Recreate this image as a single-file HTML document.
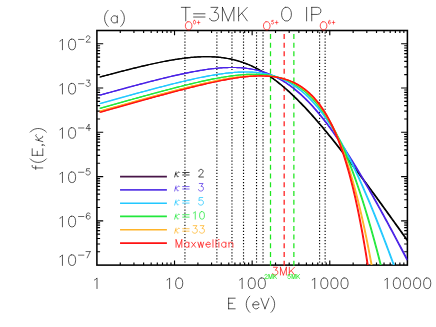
<!DOCTYPE html>
<html><head><meta charset="utf-8"><title>plot</title>
<style>html,body{margin:0;padding:0;background:#fff;font-family:"Liberation Sans",sans-serif;}body{width:436px;height:327px;overflow:hidden;position:relative}</style>
</head><body>
<svg width="436" height="327" viewBox="0 0 436 327" style="position:absolute;left:0;top:0">
<rect width="436" height="327" fill="#fff"/>
<defs><clipPath id="c"><rect x="96.90" y="30.50" width="310.50" height="234.60"/></clipPath></defs>
<rect x="96.90" y="30.50" width="310.50" height="234.60" fill="none" stroke="#000" stroke-width="1.55"/>
<path d="M120.27 265.10 v-2.5 M120.27 30.50 v2.5 M133.94 265.10 v-2.5 M133.94 30.50 v2.5 M143.63 265.10 v-2.5 M143.63 30.50 v2.5 M151.16 265.10 v-2.5 M151.16 30.50 v2.5 M157.30 265.10 v-2.5 M157.30 30.50 v2.5 M162.50 265.10 v-2.5 M162.50 30.50 v2.5 M167.00 265.10 v-2.5 M167.00 30.50 v2.5 M170.97 265.10 v-2.5 M170.97 30.50 v2.5 M174.53 265.10 v-4.7 M174.53 30.50 v4.7 M197.89 265.10 v-2.5 M197.89 30.50 v2.5 M211.56 265.10 v-2.5 M211.56 30.50 v2.5 M221.26 265.10 v-2.5 M221.26 30.50 v2.5 M228.78 265.10 v-2.5 M228.78 30.50 v2.5 M234.93 265.10 v-2.5 M234.93 30.50 v2.5 M240.13 265.10 v-2.5 M240.13 30.50 v2.5 M244.63 265.10 v-2.5 M244.63 30.50 v2.5 M248.60 265.10 v-2.5 M248.60 30.50 v2.5 M252.15 265.10 v-4.7 M252.15 30.50 v4.7 M275.52 265.10 v-2.5 M275.52 30.50 v2.5 M289.19 265.10 v-2.5 M289.19 30.50 v2.5 M298.88 265.10 v-2.5 M298.88 30.50 v2.5 M306.41 265.10 v-2.5 M306.41 30.50 v2.5 M312.55 265.10 v-2.5 M312.55 30.50 v2.5 M317.75 265.10 v-2.5 M317.75 30.50 v2.5 M322.25 265.10 v-2.5 M322.25 30.50 v2.5 M326.22 265.10 v-2.5 M326.22 30.50 v2.5 M329.77 265.10 v-4.7 M329.77 30.50 v4.7 M353.14 265.10 v-2.5 M353.14 30.50 v2.5 M366.81 265.10 v-2.5 M366.81 30.50 v2.5 M376.51 265.10 v-2.5 M376.51 30.50 v2.5 M384.03 265.10 v-2.5 M384.03 30.50 v2.5 M390.18 265.10 v-2.5 M390.18 30.50 v2.5 M395.38 265.10 v-2.5 M395.38 30.50 v2.5 M399.88 265.10 v-2.5 M399.88 30.50 v2.5 M403.85 265.10 v-2.5 M403.85 30.50 v2.5 M96.90 251.77 h3.2 M407.40 251.77 h-3.2 M96.90 243.98 h3.2 M407.40 243.98 h-3.2 M96.90 238.45 h3.2 M407.40 238.45 h-3.2 M96.90 234.16 h3.2 M407.40 234.16 h-3.2 M96.90 230.65 h3.2 M407.40 230.65 h-3.2 M96.90 227.69 h3.2 M407.40 227.69 h-3.2 M96.90 225.12 h3.2 M407.40 225.12 h-3.2 M96.90 222.85 h3.2 M407.40 222.85 h-3.2 M96.90 220.83 h6.3 M407.40 220.83 h-6.3 M96.90 207.50 h3.2 M407.40 207.50 h-3.2 M96.90 199.70 h3.2 M407.40 199.70 h-3.2 M96.90 194.17 h3.2 M407.40 194.17 h-3.2 M96.90 189.88 h3.2 M407.40 189.88 h-3.2 M96.90 186.38 h3.2 M407.40 186.38 h-3.2 M96.90 183.41 h3.2 M407.40 183.41 h-3.2 M96.90 180.85 h3.2 M407.40 180.85 h-3.2 M96.90 178.58 h3.2 M407.40 178.58 h-3.2 M96.90 176.56 h6.3 M407.40 176.56 h-6.3 M96.90 163.23 h3.2 M407.40 163.23 h-3.2 M96.90 155.43 h3.2 M407.40 155.43 h-3.2 M96.90 149.90 h3.2 M407.40 149.90 h-3.2 M96.90 145.61 h3.2 M407.40 145.61 h-3.2 M96.90 142.11 h3.2 M407.40 142.11 h-3.2 M96.90 139.14 h3.2 M407.40 139.14 h-3.2 M96.90 136.57 h3.2 M407.40 136.57 h-3.2 M96.90 134.31 h3.2 M407.40 134.31 h-3.2 M96.90 132.28 h6.3 M407.40 132.28 h-6.3 M96.90 118.96 h3.2 M407.40 118.96 h-3.2 M96.90 111.16 h3.2 M407.40 111.16 h-3.2 M96.90 105.63 h3.2 M407.40 105.63 h-3.2 M96.90 101.34 h3.2 M407.40 101.34 h-3.2 M96.90 97.83 h3.2 M407.40 97.83 h-3.2 M96.90 94.87 h3.2 M407.40 94.87 h-3.2 M96.90 92.30 h3.2 M407.40 92.30 h-3.2 M96.90 90.04 h3.2 M407.40 90.04 h-3.2 M96.90 88.01 h6.3 M407.40 88.01 h-6.3 M96.90 74.68 h3.2 M407.40 74.68 h-3.2 M96.90 66.89 h3.2 M407.40 66.89 h-3.2 M96.90 61.36 h3.2 M407.40 61.36 h-3.2 M96.90 57.07 h3.2 M407.40 57.07 h-3.2 M96.90 53.56 h3.2 M407.40 53.56 h-3.2 M96.90 50.60 h3.2 M407.40 50.60 h-3.2 M96.90 48.03 h3.2 M407.40 48.03 h-3.2 M96.90 45.77 h3.2 M407.40 45.77 h-3.2 M96.90 43.74 h6.3 M407.40 43.74 h-6.3" stroke="#000" stroke-width="1.15" fill="none"/>
<line x1="184.94" y1="262.57" x2="184.94" y2="30.50" stroke="#000" stroke-width="1.15" stroke-dasharray="1.15 1.9047"/>
<line x1="216.87" y1="262.57" x2="216.87" y2="30.50" stroke="#000" stroke-width="1.15" stroke-dasharray="1.15 1.9047"/>
<line x1="231.96" y1="262.57" x2="231.96" y2="30.50" stroke="#000" stroke-width="1.15" stroke-dasharray="1.15 1.9047"/>
<line x1="243.52" y1="262.57" x2="243.52" y2="30.50" stroke="#000" stroke-width="1.15" stroke-dasharray="1.15 1.9047"/>
<line x1="256.54" y1="262.57" x2="256.54" y2="30.50" stroke="#000" stroke-width="1.15" stroke-dasharray="1.15 1.9047"/>
<line x1="263.04" y1="262.57" x2="263.04" y2="30.50" stroke="#000" stroke-width="1.15" stroke-dasharray="1.15 1.9047"/>
<line x1="319.59" y1="262.57" x2="319.59" y2="30.50" stroke="#000" stroke-width="1.15" stroke-dasharray="1.15 1.9047"/>
<line x1="325.13" y1="262.57" x2="325.13" y2="30.50" stroke="#000" stroke-width="1.15" stroke-dasharray="1.15 1.9047"/>
<line x1="270.50" y1="265.80" x2="270.50" y2="31.50" stroke="#1ee61e" stroke-width="1.25" stroke-dasharray="5.000 3.727"/>
<line x1="284.17" y1="265.80" x2="284.17" y2="31.50" stroke="#ff1a1a" stroke-width="1.25" stroke-dasharray="5.000 3.727"/>
<line x1="293.87" y1="265.80" x2="293.87" y2="31.50" stroke="#1ee61e" stroke-width="1.25" stroke-dasharray="5.000 3.727"/>
<g clip-path="url(#c)" fill="none" stroke-width="1.18" stroke-linejoin="round">
<path d="M99.90 77.07 L101.08 76.75 L102.26 76.43 L103.45 76.11 L104.63 75.80 L105.81 75.48 L106.99 75.16 L108.18 74.85 L109.36 74.53 L110.54 74.22 L111.72 73.90 L112.91 73.59 L114.09 73.28 L115.27 72.97 L116.46 72.66 L117.64 72.35 L118.82 72.04 L120.00 71.73 L121.19 71.43 L122.37 71.12 L123.55 70.82 L124.73 70.51 L125.92 70.21 L127.10 69.91 L128.28 69.61 L129.47 69.32 L130.65 69.02 L131.83 68.73 L133.01 68.43 L134.20 68.14 L135.38 67.85 L136.56 67.56 L137.74 67.27 L138.93 66.99 L140.11 66.71 L141.29 66.42 L142.48 66.15 L143.66 65.87 L144.84 65.59 L146.02 65.32 L147.21 65.05 L148.39 64.78 L149.57 64.51 L150.75 64.25 L151.94 63.99 L153.12 63.73 L154.30 63.47 L155.48 63.22 L156.67 62.97 L157.85 62.72 L159.03 62.48 L160.22 62.23 L161.40 62.00 L162.58 61.76 L163.76 61.53 L164.95 61.30 L166.13 61.08 L167.31 60.86 L168.49 60.64 L169.68 60.43 L170.86 60.22 L172.04 60.02 L173.23 59.82 L174.41 59.62 L175.59 59.43 L176.77 59.25 L177.96 59.07 L179.14 58.89 L180.32 58.72 L181.50 58.56 L182.69 58.40 L183.87 58.25 L185.05 58.10 L186.24 57.96 L187.42 57.83 L188.60 57.70 L189.78 57.58 L190.97 57.46 L192.15 57.36 L193.33 57.26 L194.51 57.16 L195.70 57.08 L196.88 57.00 L198.06 56.93 L199.24 56.87 L200.43 56.82 L201.61 56.77 L202.79 56.74 L203.98 56.71 L205.16 56.70 L206.34 56.69 L207.52 56.70 L208.71 56.71 L209.89 56.73 L211.07 56.77 L212.25 56.81 L213.44 56.87 L214.62 56.93 L215.80 57.01 L216.99 57.10 L218.17 57.21 L219.35 57.32 L220.53 57.45 L221.72 57.59 L222.90 57.74 L224.08 57.90 L225.26 58.08 L226.45 58.28 L227.63 58.48 L228.81 58.70 L229.99 58.94 L231.18 59.19 L232.36 59.45 L233.54 59.73 L234.73 60.02 L235.91 60.33 L237.09 60.66 L238.27 61.00 L239.46 61.35 L240.64 61.73 L241.82 62.12 L243.00 62.52 L244.19 62.94 L245.37 63.38 L246.55 63.84 L247.74 64.31 L248.92 64.80 L250.10 65.30 L251.28 65.83 L252.47 66.37 L253.65 66.93 L254.83 67.51 L256.01 68.10 L257.20 68.71 L258.38 69.34 L259.56 69.99 L260.75 70.65 L261.93 71.33 L263.11 72.03 L264.29 72.75 L265.48 73.49 L266.66 74.24 L267.84 75.01 L269.02 75.80 L270.21 76.61 L271.39 77.43 L272.57 78.27 L273.75 79.13 L274.94 80.00 L276.12 80.90 L277.30 81.81 L278.49 82.73 L279.67 83.67 L280.85 84.63 L282.03 85.61 L283.22 86.60 L284.40 87.61 L285.58 88.63 L286.76 89.67 L287.95 90.72 L289.13 91.79 L290.31 92.87 L291.50 93.97 L292.68 95.08 L293.86 96.21 L295.04 97.35 L296.23 98.51 L297.41 99.68 L298.59 100.86 L299.77 102.05 L300.96 103.26 L302.14 104.48 L303.32 105.72 L304.51 106.96 L305.69 108.22 L306.87 109.49 L308.05 110.77 L309.24 112.06 L310.42 113.37 L311.60 114.68 L312.78 116.00 L313.97 117.34 L315.15 118.68 L316.33 120.04 L317.51 121.40 L318.70 122.78 L319.88 124.16 L321.06 125.55 L322.25 126.95 L323.43 128.36 L324.61 129.78 L325.79 131.20 L326.98 132.64 L328.16 134.08 L329.34 135.53 L330.52 136.98 L331.71 138.44 L332.89 139.91 L334.07 141.39 L335.26 142.87 L336.44 144.36 L337.62 145.86 L338.80 147.36 L339.99 148.87 L341.17 150.38 L342.35 151.90 L343.53 153.42 L344.72 154.95 L345.90 156.48 L347.08 158.02 L348.26 159.56 L349.45 161.11 L350.63 162.67 L351.81 164.22 L353.00 165.78 L354.18 167.35 L355.36 168.92 L356.54 170.49 L357.73 172.07 L358.91 173.65 L360.09 175.23 L361.27 176.82 L362.46 178.41 L363.64 180.00 L364.82 181.60 L366.01 183.20 L367.19 184.80 L368.37 186.40 L369.55 188.01 L370.74 189.62 L371.92 191.23 L373.10 192.85 L374.28 194.47 L375.47 196.09 L376.65 197.71 L377.83 199.33 L379.02 200.96 L380.20 202.59 L381.38 204.22 L382.56 205.85 L383.75 207.48 L384.93 209.12 L386.11 210.76 L387.29 212.40 L388.48 214.04 L389.66 215.68 L390.84 217.32 L392.02 218.97 L393.21 220.61 L394.39 222.26 L395.57 223.91 L396.76 225.56 L397.94 227.21 L399.12 228.87 L400.30 230.52 L401.49 232.18 L402.67 233.83 L403.85 235.49 L405.03 237.15 L406.22 238.81 L407.40 240.47" stroke="#000000" transform="translate(-0.36,0)"/>
<path d="M99.90 77.07 L101.08 76.75 L102.26 76.43 L103.45 76.11 L104.63 75.80 L105.81 75.48 L106.99 75.16 L108.18 74.85 L109.36 74.53 L110.54 74.22 L111.72 73.90 L112.91 73.59 L114.09 73.28 L115.27 72.97 L116.46 72.66 L117.64 72.35 L118.82 72.04 L120.00 71.73 L121.19 71.43 L122.37 71.12 L123.55 70.82 L124.73 70.51 L125.92 70.21 L127.10 69.91 L128.28 69.61 L129.47 69.32 L130.65 69.02 L131.83 68.73 L133.01 68.43 L134.20 68.14 L135.38 67.85 L136.56 67.56 L137.74 67.27 L138.93 66.99 L140.11 66.71 L141.29 66.42 L142.48 66.15 L143.66 65.87 L144.84 65.59 L146.02 65.32 L147.21 65.05 L148.39 64.78 L149.57 64.51 L150.75 64.25 L151.94 63.99 L153.12 63.73 L154.30 63.47 L155.48 63.22 L156.67 62.97 L157.85 62.72 L159.03 62.48 L160.22 62.23 L161.40 62.00 L162.58 61.76 L163.76 61.53 L164.95 61.30 L166.13 61.08 L167.31 60.86 L168.49 60.64 L169.68 60.43 L170.86 60.22 L172.04 60.02 L173.23 59.82 L174.41 59.62 L175.59 59.43 L176.77 59.25 L177.96 59.07 L179.14 58.89 L180.32 58.72 L181.50 58.56 L182.69 58.40 L183.87 58.25 L185.05 58.10 L186.24 57.96 L187.42 57.83 L188.60 57.70 L189.78 57.58 L190.97 57.46 L192.15 57.36 L193.33 57.26 L194.51 57.16 L195.70 57.08 L196.88 57.00 L198.06 56.93 L199.24 56.87 L200.43 56.82 L201.61 56.77 L202.79 56.74 L203.98 56.71 L205.16 56.70 L206.34 56.69 L207.52 56.70 L208.71 56.71 L209.89 56.73 L211.07 56.77 L212.25 56.81 L213.44 56.87 L214.62 56.93 L215.80 57.01 L216.99 57.10 L218.17 57.21 L219.35 57.32 L220.53 57.45 L221.72 57.59 L222.90 57.74 L224.08 57.90 L225.26 58.08 L226.45 58.28 L227.63 58.48 L228.81 58.70 L229.99 58.94 L231.18 59.19 L232.36 59.45 L233.54 59.73 L234.73 60.02 L235.91 60.33 L237.09 60.66 L238.27 61.00 L239.46 61.35 L240.64 61.73 L241.82 62.12 L243.00 62.52 L244.19 62.94 L245.37 63.38 L246.55 63.84 L247.74 64.31 L248.92 64.80 L250.10 65.30 L251.28 65.83 L252.47 66.37 L253.65 66.93 L254.83 67.51 L256.01 68.10 L257.20 68.71 L258.38 69.34 L259.56 69.99 L260.75 70.65 L261.93 71.33 L263.11 72.03 L264.29 72.75 L265.48 73.49 L266.66 74.24 L267.84 75.01 L269.02 75.80 L270.21 76.61 L271.39 77.43 L272.57 78.27 L273.75 79.13 L274.94 80.00 L276.12 80.90 L277.30 81.81 L278.49 82.73 L279.67 83.67 L280.85 84.63 L282.03 85.61 L283.22 86.60 L284.40 87.61 L285.58 88.63 L286.76 89.67 L287.95 90.72 L289.13 91.79 L290.31 92.87 L291.50 93.97 L292.68 95.08 L293.86 96.21 L295.04 97.35 L296.23 98.51 L297.41 99.68 L298.59 100.86 L299.77 102.05 L300.96 103.26 L302.14 104.48 L303.32 105.72 L304.51 106.96 L305.69 108.22 L306.87 109.49 L308.05 110.77 L309.24 112.06 L310.42 113.37 L311.60 114.68 L312.78 116.00 L313.97 117.34 L315.15 118.68 L316.33 120.04 L317.51 121.40 L318.70 122.78 L319.88 124.16 L321.06 125.55 L322.25 126.95 L323.43 128.36 L324.61 129.78 L325.79 131.20 L326.98 132.64 L328.16 134.08 L329.34 135.53 L330.52 136.98 L331.71 138.44 L332.89 139.91 L334.07 141.39 L335.26 142.87 L336.44 144.36 L337.62 145.86 L338.80 147.36 L339.99 148.87 L341.17 150.38 L342.35 151.90 L343.53 153.42 L344.72 154.95 L345.90 156.48 L347.08 158.02 L348.26 159.56 L349.45 161.11 L350.63 162.67 L351.81 164.22 L353.00 165.78 L354.18 167.35 L355.36 168.92 L356.54 170.49 L357.73 172.07 L358.91 173.65 L360.09 175.23 L361.27 176.82 L362.46 178.41 L363.64 180.00 L364.82 181.60 L366.01 183.20 L367.19 184.80 L368.37 186.40 L369.55 188.01 L370.74 189.62 L371.92 191.23 L373.10 192.85 L374.28 194.47 L375.47 196.09 L376.65 197.71 L377.83 199.33 L379.02 200.96 L380.20 202.59 L381.38 204.22 L382.56 205.85 L383.75 207.48 L384.93 209.12 L386.11 210.76 L387.29 212.40 L388.48 214.04 L389.66 215.68 L390.84 217.32 L392.02 218.97 L393.21 220.61 L394.39 222.26 L395.57 223.91 L396.76 225.56 L397.94 227.21 L399.12 228.87 L400.30 230.52 L401.49 232.18 L402.67 233.83 L403.85 235.49 L405.03 237.15 L406.22 238.81 L407.40 240.47" stroke="#000000" transform="translate(0.36,0)"/>
<path d="M99.90 95.16 L101.08 94.83 L102.26 94.50 L103.45 94.17 L104.63 93.84 L105.81 93.52 L106.99 93.19 L108.18 92.86 L109.36 92.53 L110.54 92.21 L111.72 91.88 L112.91 91.55 L114.09 91.23 L115.27 90.90 L116.46 90.58 L117.64 90.25 L118.82 89.93 L120.00 89.60 L121.19 89.28 L122.37 88.96 L123.55 88.64 L124.73 88.31 L125.92 87.99 L127.10 87.67 L128.28 87.35 L129.47 87.03 L130.65 86.71 L131.83 86.40 L133.01 86.08 L134.20 85.76 L135.38 85.45 L136.56 85.13 L137.74 84.82 L138.93 84.50 L140.11 84.19 L141.29 83.88 L142.48 83.57 L143.66 83.26 L144.84 82.95 L146.02 82.64 L147.21 82.33 L148.39 82.03 L149.57 81.72 L150.75 81.42 L151.94 81.11 L153.12 80.81 L154.30 80.51 L155.48 80.21 L156.67 79.92 L157.85 79.62 L159.03 79.32 L160.22 79.03 L161.40 78.74 L162.58 78.45 L163.76 78.16 L164.95 77.87 L166.13 77.59 L167.31 77.31 L168.49 77.02 L169.68 76.74 L170.86 76.47 L172.04 76.19 L173.23 75.92 L174.41 75.65 L175.59 75.38 L176.77 75.11 L177.96 74.85 L179.14 74.59 L180.32 74.33 L181.50 74.08 L182.69 73.82 L183.87 73.57 L185.05 73.33 L186.24 73.08 L187.42 72.84 L188.60 72.60 L189.78 72.37 L190.97 72.14 L192.15 71.91 L193.33 71.69 L194.51 71.47 L195.70 71.26 L196.88 71.05 L198.06 70.84 L199.24 70.64 L200.43 70.44 L201.61 70.25 L202.79 70.06 L203.98 69.88 L205.16 69.70 L206.34 69.53 L207.52 69.36 L208.71 69.20 L209.89 69.04 L211.07 68.89 L212.25 68.75 L213.44 68.61 L214.62 68.48 L215.80 68.36 L216.99 68.24 L218.17 68.14 L219.35 68.03 L220.53 67.94 L221.72 67.85 L222.90 67.78 L224.08 67.71 L225.26 67.65 L226.45 67.59 L227.63 67.55 L228.81 67.52 L229.99 67.49 L231.18 67.48 L232.36 67.48 L233.54 67.48 L234.73 67.50 L235.91 67.53 L237.09 67.57 L238.27 67.62 L239.46 67.68 L240.64 67.75 L241.82 67.84 L243.00 67.94 L244.19 68.05 L245.37 68.18 L246.55 68.32 L247.74 68.47 L248.92 68.64 L250.10 68.82 L251.28 69.02 L252.47 69.23 L253.65 69.46 L254.83 69.70 L256.01 69.96 L257.20 70.24 L258.38 70.53 L259.56 70.84 L260.75 71.17 L261.93 71.51 L263.11 71.88 L264.29 72.26 L265.48 72.66 L266.66 73.08 L267.84 73.52 L269.02 73.98 L270.21 74.45 L271.39 74.95 L272.57 75.47 L273.75 76.01 L274.94 76.57 L276.12 77.15 L277.30 77.75 L278.49 78.38 L279.67 79.02 L280.85 79.69 L282.03 80.38 L283.22 81.09 L284.40 81.83 L285.58 82.59 L286.76 83.37 L287.95 84.17 L289.13 85.00 L290.31 85.85 L291.50 86.72 L292.68 87.62 L293.86 88.54 L295.04 89.48 L296.23 90.45 L297.41 91.44 L298.59 92.46 L299.77 93.50 L300.96 94.56 L302.14 95.64 L303.32 96.75 L304.51 97.89 L305.69 99.04 L306.87 100.22 L308.05 101.43 L309.24 102.65 L310.42 103.90 L311.60 105.17 L312.78 106.47 L313.97 107.78 L315.15 109.12 L316.33 110.49 L317.51 111.87 L318.70 113.28 L319.88 114.70 L321.06 116.15 L322.25 117.62 L323.43 119.11 L324.61 120.62 L325.79 122.15 L326.98 123.70 L328.16 125.27 L329.34 126.86 L330.52 128.47 L331.71 130.10 L332.89 131.75 L334.07 133.41 L335.26 135.10 L336.44 136.80 L337.62 138.52 L338.80 140.25 L339.99 142.00 L341.17 143.77 L342.35 145.56 L343.53 147.36 L344.72 149.17 L345.90 151.00 L347.08 152.85 L348.26 154.71 L349.45 156.58 L350.63 158.47 L351.81 160.37 L353.00 162.28 L354.18 164.21 L355.36 166.15 L356.54 168.10 L357.73 170.07 L358.91 172.05 L360.09 174.03 L361.27 176.03 L362.46 178.04 L363.64 180.06 L364.82 182.09 L366.01 184.13 L367.19 186.18 L368.37 188.24 L369.55 190.31 L370.74 192.39 L371.92 194.48 L373.10 196.57 L374.28 198.68 L375.47 200.79 L376.65 202.91 L377.83 205.03 L379.02 207.17 L380.20 209.31 L381.38 211.46 L382.56 213.61 L383.75 215.78 L384.93 217.94 L386.11 220.12 L387.29 222.30 L388.48 224.48 L389.66 226.68 L390.84 228.87 L392.02 231.08 L393.21 233.28 L394.39 235.50 L395.57 237.71 L396.76 239.94 L397.94 242.16 L399.12 244.40 L400.30 246.63 L401.49 248.87 L402.67 251.11 L403.85 253.36 L405.03 255.61 L406.22 257.87 L407.40 260.13" stroke="#4a22e6" transform="translate(-0.36,0)"/>
<path d="M99.90 95.16 L101.08 94.83 L102.26 94.50 L103.45 94.17 L104.63 93.84 L105.81 93.52 L106.99 93.19 L108.18 92.86 L109.36 92.53 L110.54 92.21 L111.72 91.88 L112.91 91.55 L114.09 91.23 L115.27 90.90 L116.46 90.58 L117.64 90.25 L118.82 89.93 L120.00 89.60 L121.19 89.28 L122.37 88.96 L123.55 88.64 L124.73 88.31 L125.92 87.99 L127.10 87.67 L128.28 87.35 L129.47 87.03 L130.65 86.71 L131.83 86.40 L133.01 86.08 L134.20 85.76 L135.38 85.45 L136.56 85.13 L137.74 84.82 L138.93 84.50 L140.11 84.19 L141.29 83.88 L142.48 83.57 L143.66 83.26 L144.84 82.95 L146.02 82.64 L147.21 82.33 L148.39 82.03 L149.57 81.72 L150.75 81.42 L151.94 81.11 L153.12 80.81 L154.30 80.51 L155.48 80.21 L156.67 79.92 L157.85 79.62 L159.03 79.32 L160.22 79.03 L161.40 78.74 L162.58 78.45 L163.76 78.16 L164.95 77.87 L166.13 77.59 L167.31 77.31 L168.49 77.02 L169.68 76.74 L170.86 76.47 L172.04 76.19 L173.23 75.92 L174.41 75.65 L175.59 75.38 L176.77 75.11 L177.96 74.85 L179.14 74.59 L180.32 74.33 L181.50 74.08 L182.69 73.82 L183.87 73.57 L185.05 73.33 L186.24 73.08 L187.42 72.84 L188.60 72.60 L189.78 72.37 L190.97 72.14 L192.15 71.91 L193.33 71.69 L194.51 71.47 L195.70 71.26 L196.88 71.05 L198.06 70.84 L199.24 70.64 L200.43 70.44 L201.61 70.25 L202.79 70.06 L203.98 69.88 L205.16 69.70 L206.34 69.53 L207.52 69.36 L208.71 69.20 L209.89 69.04 L211.07 68.89 L212.25 68.75 L213.44 68.61 L214.62 68.48 L215.80 68.36 L216.99 68.24 L218.17 68.14 L219.35 68.03 L220.53 67.94 L221.72 67.85 L222.90 67.78 L224.08 67.71 L225.26 67.65 L226.45 67.59 L227.63 67.55 L228.81 67.52 L229.99 67.49 L231.18 67.48 L232.36 67.48 L233.54 67.48 L234.73 67.50 L235.91 67.53 L237.09 67.57 L238.27 67.62 L239.46 67.68 L240.64 67.75 L241.82 67.84 L243.00 67.94 L244.19 68.05 L245.37 68.18 L246.55 68.32 L247.74 68.47 L248.92 68.64 L250.10 68.82 L251.28 69.02 L252.47 69.23 L253.65 69.46 L254.83 69.70 L256.01 69.96 L257.20 70.24 L258.38 70.53 L259.56 70.84 L260.75 71.17 L261.93 71.51 L263.11 71.88 L264.29 72.26 L265.48 72.66 L266.66 73.08 L267.84 73.52 L269.02 73.98 L270.21 74.45 L271.39 74.95 L272.57 75.47 L273.75 76.01 L274.94 76.57 L276.12 77.15 L277.30 77.75 L278.49 78.38 L279.67 79.02 L280.85 79.69 L282.03 80.38 L283.22 81.09 L284.40 81.83 L285.58 82.59 L286.76 83.37 L287.95 84.17 L289.13 85.00 L290.31 85.85 L291.50 86.72 L292.68 87.62 L293.86 88.54 L295.04 89.48 L296.23 90.45 L297.41 91.44 L298.59 92.46 L299.77 93.50 L300.96 94.56 L302.14 95.64 L303.32 96.75 L304.51 97.89 L305.69 99.04 L306.87 100.22 L308.05 101.43 L309.24 102.65 L310.42 103.90 L311.60 105.17 L312.78 106.47 L313.97 107.78 L315.15 109.12 L316.33 110.49 L317.51 111.87 L318.70 113.28 L319.88 114.70 L321.06 116.15 L322.25 117.62 L323.43 119.11 L324.61 120.62 L325.79 122.15 L326.98 123.70 L328.16 125.27 L329.34 126.86 L330.52 128.47 L331.71 130.10 L332.89 131.75 L334.07 133.41 L335.26 135.10 L336.44 136.80 L337.62 138.52 L338.80 140.25 L339.99 142.00 L341.17 143.77 L342.35 145.56 L343.53 147.36 L344.72 149.17 L345.90 151.00 L347.08 152.85 L348.26 154.71 L349.45 156.58 L350.63 158.47 L351.81 160.37 L353.00 162.28 L354.18 164.21 L355.36 166.15 L356.54 168.10 L357.73 170.07 L358.91 172.05 L360.09 174.03 L361.27 176.03 L362.46 178.04 L363.64 180.06 L364.82 182.09 L366.01 184.13 L367.19 186.18 L368.37 188.24 L369.55 190.31 L370.74 192.39 L371.92 194.48 L373.10 196.57 L374.28 198.68 L375.47 200.79 L376.65 202.91 L377.83 205.03 L379.02 207.17 L380.20 209.31 L381.38 211.46 L382.56 213.61 L383.75 215.78 L384.93 217.94 L386.11 220.12 L387.29 222.30 L388.48 224.48 L389.66 226.68 L390.84 228.87 L392.02 231.08 L393.21 233.28 L394.39 235.50 L395.57 237.71 L396.76 239.94 L397.94 242.16 L399.12 244.40 L400.30 246.63 L401.49 248.87 L402.67 251.11 L403.85 253.36 L405.03 255.61 L406.22 257.87 L407.40 260.13" stroke="#4a22e6" transform="translate(0.36,0)"/>
<path d="M99.90 103.63 L101.08 103.29 L102.26 102.96 L103.45 102.63 L104.63 102.30 L105.81 101.97 L106.99 101.64 L108.18 101.30 L109.36 100.97 L110.54 100.64 L111.72 100.31 L112.91 99.98 L114.09 99.65 L115.27 99.32 L116.46 98.99 L117.64 98.66 L118.82 98.33 L120.00 98.01 L121.19 97.68 L122.37 97.35 L123.55 97.02 L124.73 96.70 L125.92 96.37 L127.10 96.04 L128.28 95.72 L129.47 95.39 L130.65 95.06 L131.83 94.74 L133.01 94.42 L134.20 94.09 L135.38 93.77 L136.56 93.44 L137.74 93.12 L138.93 92.80 L140.11 92.48 L141.29 92.16 L142.48 91.84 L143.66 91.52 L144.84 91.20 L146.02 90.88 L147.21 90.56 L148.39 90.24 L149.57 89.93 L150.75 89.61 L151.94 89.30 L153.12 88.98 L154.30 88.67 L155.48 88.36 L156.67 88.05 L157.85 87.74 L159.03 87.43 L160.22 87.12 L161.40 86.81 L162.58 86.50 L163.76 86.20 L164.95 85.89 L166.13 85.59 L167.31 85.29 L168.49 84.99 L169.68 84.69 L170.86 84.39 L172.04 84.09 L173.23 83.80 L174.41 83.50 L175.59 83.21 L176.77 82.92 L177.96 82.63 L179.14 82.34 L180.32 82.06 L181.50 81.77 L182.69 81.49 L183.87 81.21 L185.05 80.93 L186.24 80.66 L187.42 80.38 L188.60 80.11 L189.78 79.84 L190.97 79.58 L192.15 79.31 L193.33 79.05 L194.51 78.79 L195.70 78.53 L196.88 78.28 L198.06 78.03 L199.24 77.78 L200.43 77.54 L201.61 77.29 L202.79 77.06 L203.98 76.82 L205.16 76.59 L206.34 76.36 L207.52 76.14 L208.71 75.92 L209.89 75.70 L211.07 75.49 L212.25 75.29 L213.44 75.08 L214.62 74.89 L215.80 74.69 L216.99 74.50 L218.17 74.32 L219.35 74.14 L220.53 73.97 L221.72 73.81 L222.90 73.64 L224.08 73.49 L225.26 73.34 L226.45 73.20 L227.63 73.06 L228.81 72.94 L229.99 72.81 L231.18 72.70 L232.36 72.59 L233.54 72.49 L234.73 72.40 L235.91 72.32 L237.09 72.25 L238.27 72.18 L239.46 72.12 L240.64 72.08 L241.82 72.04 L243.00 72.01 L244.19 71.99 L245.37 71.99 L246.55 71.99 L247.74 72.00 L248.92 72.03 L250.10 72.07 L251.28 72.12 L252.47 72.18 L253.65 72.26 L254.83 72.34 L256.01 72.45 L257.20 72.56 L258.38 72.69 L259.56 72.84 L260.75 73.00 L261.93 73.17 L263.11 73.37 L264.29 73.57 L265.48 73.80 L266.66 74.04 L267.84 74.30 L269.02 74.58 L270.21 74.87 L271.39 75.19 L272.57 75.52 L273.75 75.88 L274.94 76.25 L276.12 76.65 L277.30 77.07 L278.49 77.50 L279.67 77.96 L280.85 78.45 L282.03 78.96 L283.22 79.49 L284.40 80.04 L285.58 80.62 L286.76 81.22 L287.95 81.85 L289.13 82.51 L290.31 83.19 L291.50 83.90 L292.68 84.64 L293.86 85.40 L295.04 86.20 L296.23 87.02 L297.41 87.87 L298.59 88.75 L299.77 89.66 L300.96 90.60 L302.14 91.58 L303.32 92.58 L304.51 93.62 L305.69 94.68 L306.87 95.78 L308.05 96.92 L309.24 98.08 L310.42 99.28 L311.60 100.51 L312.78 101.78 L313.97 103.08 L315.15 104.41 L316.33 105.78 L317.51 107.18 L318.70 108.62 L319.88 110.10 L321.06 111.61 L322.25 113.15 L323.43 114.73 L324.61 116.34 L325.79 117.99 L326.98 119.68 L328.16 121.40 L329.34 123.16 L330.52 124.95 L331.71 126.78 L332.89 128.64 L334.07 130.54 L335.26 132.47 L336.44 134.44 L337.62 136.44 L338.80 138.48 L339.99 140.55 L341.17 142.66 L342.35 144.80 L343.53 146.97 L344.72 149.18 L345.90 151.41 L347.08 153.69 L348.26 155.99 L349.45 158.33 L350.63 160.69 L351.81 163.09 L353.00 165.52 L354.18 167.99 L355.36 170.48 L356.54 173.00 L357.73 175.55 L358.91 178.12 L360.09 180.73 L361.27 183.37 L362.46 186.03 L363.64 188.72 L364.82 191.43 L366.01 194.18 L367.19 196.94 L368.37 199.74 L369.55 202.55 L370.74 205.39 L371.92 208.26 L373.10 211.15 L374.28 214.06 L375.47 216.99 L376.65 219.95 L377.83 222.92 L379.02 225.92 L380.20 228.94 L381.38 231.98 L382.56 235.03 L383.75 238.11 L384.93 241.20 L386.11 244.32 L387.29 247.45 L388.48 250.59 L389.66 253.76 L390.84 256.94 L392.02 260.13 L393.21 263.35 L394.39 266.57 L395.57 269.82 L396.76 273.07 L397.94 276.34 L399.12 279.63 L400.30 282.92 L401.49 286.23 L402.67 289.55 L403.85 292.89 L405.03 296.23" stroke="#22c8ff" transform="translate(-0.36,0)"/>
<path d="M99.90 103.63 L101.08 103.29 L102.26 102.96 L103.45 102.63 L104.63 102.30 L105.81 101.97 L106.99 101.64 L108.18 101.30 L109.36 100.97 L110.54 100.64 L111.72 100.31 L112.91 99.98 L114.09 99.65 L115.27 99.32 L116.46 98.99 L117.64 98.66 L118.82 98.33 L120.00 98.01 L121.19 97.68 L122.37 97.35 L123.55 97.02 L124.73 96.70 L125.92 96.37 L127.10 96.04 L128.28 95.72 L129.47 95.39 L130.65 95.06 L131.83 94.74 L133.01 94.42 L134.20 94.09 L135.38 93.77 L136.56 93.44 L137.74 93.12 L138.93 92.80 L140.11 92.48 L141.29 92.16 L142.48 91.84 L143.66 91.52 L144.84 91.20 L146.02 90.88 L147.21 90.56 L148.39 90.24 L149.57 89.93 L150.75 89.61 L151.94 89.30 L153.12 88.98 L154.30 88.67 L155.48 88.36 L156.67 88.05 L157.85 87.74 L159.03 87.43 L160.22 87.12 L161.40 86.81 L162.58 86.50 L163.76 86.20 L164.95 85.89 L166.13 85.59 L167.31 85.29 L168.49 84.99 L169.68 84.69 L170.86 84.39 L172.04 84.09 L173.23 83.80 L174.41 83.50 L175.59 83.21 L176.77 82.92 L177.96 82.63 L179.14 82.34 L180.32 82.06 L181.50 81.77 L182.69 81.49 L183.87 81.21 L185.05 80.93 L186.24 80.66 L187.42 80.38 L188.60 80.11 L189.78 79.84 L190.97 79.58 L192.15 79.31 L193.33 79.05 L194.51 78.79 L195.70 78.53 L196.88 78.28 L198.06 78.03 L199.24 77.78 L200.43 77.54 L201.61 77.29 L202.79 77.06 L203.98 76.82 L205.16 76.59 L206.34 76.36 L207.52 76.14 L208.71 75.92 L209.89 75.70 L211.07 75.49 L212.25 75.29 L213.44 75.08 L214.62 74.89 L215.80 74.69 L216.99 74.50 L218.17 74.32 L219.35 74.14 L220.53 73.97 L221.72 73.81 L222.90 73.64 L224.08 73.49 L225.26 73.34 L226.45 73.20 L227.63 73.06 L228.81 72.94 L229.99 72.81 L231.18 72.70 L232.36 72.59 L233.54 72.49 L234.73 72.40 L235.91 72.32 L237.09 72.25 L238.27 72.18 L239.46 72.12 L240.64 72.08 L241.82 72.04 L243.00 72.01 L244.19 71.99 L245.37 71.99 L246.55 71.99 L247.74 72.00 L248.92 72.03 L250.10 72.07 L251.28 72.12 L252.47 72.18 L253.65 72.26 L254.83 72.34 L256.01 72.45 L257.20 72.56 L258.38 72.69 L259.56 72.84 L260.75 73.00 L261.93 73.17 L263.11 73.37 L264.29 73.57 L265.48 73.80 L266.66 74.04 L267.84 74.30 L269.02 74.58 L270.21 74.87 L271.39 75.19 L272.57 75.52 L273.75 75.88 L274.94 76.25 L276.12 76.65 L277.30 77.07 L278.49 77.50 L279.67 77.96 L280.85 78.45 L282.03 78.96 L283.22 79.49 L284.40 80.04 L285.58 80.62 L286.76 81.22 L287.95 81.85 L289.13 82.51 L290.31 83.19 L291.50 83.90 L292.68 84.64 L293.86 85.40 L295.04 86.20 L296.23 87.02 L297.41 87.87 L298.59 88.75 L299.77 89.66 L300.96 90.60 L302.14 91.58 L303.32 92.58 L304.51 93.62 L305.69 94.68 L306.87 95.78 L308.05 96.92 L309.24 98.08 L310.42 99.28 L311.60 100.51 L312.78 101.78 L313.97 103.08 L315.15 104.41 L316.33 105.78 L317.51 107.18 L318.70 108.62 L319.88 110.10 L321.06 111.61 L322.25 113.15 L323.43 114.73 L324.61 116.34 L325.79 117.99 L326.98 119.68 L328.16 121.40 L329.34 123.16 L330.52 124.95 L331.71 126.78 L332.89 128.64 L334.07 130.54 L335.26 132.47 L336.44 134.44 L337.62 136.44 L338.80 138.48 L339.99 140.55 L341.17 142.66 L342.35 144.80 L343.53 146.97 L344.72 149.18 L345.90 151.41 L347.08 153.69 L348.26 155.99 L349.45 158.33 L350.63 160.69 L351.81 163.09 L353.00 165.52 L354.18 167.99 L355.36 170.48 L356.54 173.00 L357.73 175.55 L358.91 178.12 L360.09 180.73 L361.27 183.37 L362.46 186.03 L363.64 188.72 L364.82 191.43 L366.01 194.18 L367.19 196.94 L368.37 199.74 L369.55 202.55 L370.74 205.39 L371.92 208.26 L373.10 211.15 L374.28 214.06 L375.47 216.99 L376.65 219.95 L377.83 222.92 L379.02 225.92 L380.20 228.94 L381.38 231.98 L382.56 235.03 L383.75 238.11 L384.93 241.20 L386.11 244.32 L387.29 247.45 L388.48 250.59 L389.66 253.76 L390.84 256.94 L392.02 260.13 L393.21 263.35 L394.39 266.57 L395.57 269.82 L396.76 273.07 L397.94 276.34 L399.12 279.63 L400.30 282.92 L401.49 286.23 L402.67 289.55 L403.85 292.89 L405.03 296.23" stroke="#22c8ff" transform="translate(0.36,0)"/>
<path d="M99.90 108.39 L101.08 108.06 L102.26 107.72 L103.45 107.39 L104.63 107.06 L105.81 106.73 L106.99 106.39 L108.18 106.06 L109.36 105.73 L110.54 105.40 L111.72 105.06 L112.91 104.73 L114.09 104.40 L115.27 104.07 L116.46 103.74 L117.64 103.41 L118.82 103.07 L120.00 102.74 L121.19 102.41 L122.37 102.08 L123.55 101.75 L124.73 101.42 L125.92 101.09 L127.10 100.77 L128.28 100.44 L129.47 100.11 L130.65 99.78 L131.83 99.45 L133.01 99.12 L134.20 98.80 L135.38 98.47 L136.56 98.14 L137.74 97.82 L138.93 97.49 L140.11 97.17 L141.29 96.84 L142.48 96.52 L143.66 96.19 L144.84 95.87 L146.02 95.55 L147.21 95.22 L148.39 94.90 L149.57 94.58 L150.75 94.26 L151.94 93.94 L153.12 93.62 L154.30 93.30 L155.48 92.98 L156.67 92.66 L157.85 92.35 L159.03 92.03 L160.22 91.71 L161.40 91.40 L162.58 91.09 L163.76 90.77 L164.95 90.46 L166.13 90.15 L167.31 89.84 L168.49 89.53 L169.68 89.22 L170.86 88.91 L172.04 88.61 L173.23 88.30 L174.41 88.00 L175.59 87.69 L176.77 87.39 L177.96 87.09 L179.14 86.79 L180.32 86.49 L181.50 86.20 L182.69 85.90 L183.87 85.61 L185.05 85.31 L186.24 85.02 L187.42 84.74 L188.60 84.45 L189.78 84.16 L190.97 83.88 L192.15 83.60 L193.33 83.32 L194.51 83.04 L195.70 82.76 L196.88 82.49 L198.06 82.22 L199.24 81.95 L200.43 81.68 L201.61 81.42 L202.79 81.16 L203.98 80.90 L205.16 80.64 L206.34 80.39 L207.52 80.14 L208.71 79.89 L209.89 79.65 L211.07 79.41 L212.25 79.17 L213.44 78.94 L214.62 78.71 L215.80 78.48 L216.99 78.26 L218.17 78.04 L219.35 77.83 L220.53 77.62 L221.72 77.41 L222.90 77.21 L224.08 77.02 L225.26 76.83 L226.45 76.64 L227.63 76.46 L228.81 76.29 L229.99 76.12 L231.18 75.95 L232.36 75.80 L233.54 75.65 L234.73 75.50 L235.91 75.36 L237.09 75.23 L238.27 75.11 L239.46 74.99 L240.64 74.88 L241.82 74.78 L243.00 74.69 L244.19 74.61 L245.37 74.53 L246.55 74.46 L247.74 74.41 L248.92 74.36 L250.10 74.32 L251.28 74.30 L252.47 74.28 L253.65 74.27 L254.83 74.28 L256.01 74.29 L257.20 74.32 L258.38 74.37 L259.56 74.42 L260.75 74.49 L261.93 74.57 L263.11 74.66 L264.29 74.77 L265.48 74.90 L266.66 75.04 L267.84 75.19 L269.02 75.37 L270.21 75.56 L271.39 75.76 L272.57 75.99 L273.75 76.23 L274.94 76.49 L276.12 76.78 L277.30 77.08 L278.49 77.40 L279.67 77.74 L280.85 78.11 L282.03 78.50 L283.22 78.91 L284.40 79.35 L285.58 79.81 L286.76 80.30 L287.95 80.81 L289.13 81.35 L290.31 81.91 L291.50 82.51 L292.68 83.13 L293.86 83.79 L295.04 84.47 L296.23 85.19 L297.41 85.93 L298.59 86.71 L299.77 87.53 L300.96 88.38 L302.14 89.26 L303.32 90.18 L304.51 91.14 L305.69 92.13 L306.87 93.17 L308.05 94.24 L309.24 95.35 L310.42 96.51 L311.60 97.71 L312.78 98.95 L313.97 100.23 L315.15 101.56 L316.33 102.94 L317.51 104.36 L318.70 105.83 L319.88 107.35 L321.06 108.92 L322.25 110.53 L323.43 112.20 L324.61 113.92 L325.79 115.69 L326.98 117.52 L328.16 119.40 L329.34 121.34 L330.52 123.33 L331.71 125.37 L332.89 127.48 L334.07 129.64 L335.26 131.86 L336.44 134.14 L337.62 136.48 L338.80 138.88 L339.99 141.34 L341.17 143.86 L342.35 146.45 L343.53 149.09 L344.72 151.80 L345.90 154.57 L347.08 157.41 L348.26 160.31 L349.45 163.27 L350.63 166.30 L351.81 169.39 L353.00 172.55 L354.18 175.77 L355.36 179.06 L356.54 182.42 L357.73 185.83 L358.91 189.32 L360.09 192.86 L361.27 196.48 L362.46 200.15 L363.64 203.90 L364.82 207.70 L366.01 211.57 L367.19 215.51 L368.37 219.50 L369.55 223.56 L370.74 227.69 L371.92 231.87 L373.10 236.12 L374.28 240.43 L375.47 244.80 L376.65 249.22 L377.83 253.71 L379.02 258.26 L380.20 262.87 L381.38 267.53 L382.56 272.25 L383.75 277.02 L384.93 281.86 L386.11 286.74 L387.29 291.68 L388.48 296.68" stroke="#22e83c" transform="translate(-0.36,0)"/>
<path d="M99.90 108.39 L101.08 108.06 L102.26 107.72 L103.45 107.39 L104.63 107.06 L105.81 106.73 L106.99 106.39 L108.18 106.06 L109.36 105.73 L110.54 105.40 L111.72 105.06 L112.91 104.73 L114.09 104.40 L115.27 104.07 L116.46 103.74 L117.64 103.41 L118.82 103.07 L120.00 102.74 L121.19 102.41 L122.37 102.08 L123.55 101.75 L124.73 101.42 L125.92 101.09 L127.10 100.77 L128.28 100.44 L129.47 100.11 L130.65 99.78 L131.83 99.45 L133.01 99.12 L134.20 98.80 L135.38 98.47 L136.56 98.14 L137.74 97.82 L138.93 97.49 L140.11 97.17 L141.29 96.84 L142.48 96.52 L143.66 96.19 L144.84 95.87 L146.02 95.55 L147.21 95.22 L148.39 94.90 L149.57 94.58 L150.75 94.26 L151.94 93.94 L153.12 93.62 L154.30 93.30 L155.48 92.98 L156.67 92.66 L157.85 92.35 L159.03 92.03 L160.22 91.71 L161.40 91.40 L162.58 91.09 L163.76 90.77 L164.95 90.46 L166.13 90.15 L167.31 89.84 L168.49 89.53 L169.68 89.22 L170.86 88.91 L172.04 88.61 L173.23 88.30 L174.41 88.00 L175.59 87.69 L176.77 87.39 L177.96 87.09 L179.14 86.79 L180.32 86.49 L181.50 86.20 L182.69 85.90 L183.87 85.61 L185.05 85.31 L186.24 85.02 L187.42 84.74 L188.60 84.45 L189.78 84.16 L190.97 83.88 L192.15 83.60 L193.33 83.32 L194.51 83.04 L195.70 82.76 L196.88 82.49 L198.06 82.22 L199.24 81.95 L200.43 81.68 L201.61 81.42 L202.79 81.16 L203.98 80.90 L205.16 80.64 L206.34 80.39 L207.52 80.14 L208.71 79.89 L209.89 79.65 L211.07 79.41 L212.25 79.17 L213.44 78.94 L214.62 78.71 L215.80 78.48 L216.99 78.26 L218.17 78.04 L219.35 77.83 L220.53 77.62 L221.72 77.41 L222.90 77.21 L224.08 77.02 L225.26 76.83 L226.45 76.64 L227.63 76.46 L228.81 76.29 L229.99 76.12 L231.18 75.95 L232.36 75.80 L233.54 75.65 L234.73 75.50 L235.91 75.36 L237.09 75.23 L238.27 75.11 L239.46 74.99 L240.64 74.88 L241.82 74.78 L243.00 74.69 L244.19 74.61 L245.37 74.53 L246.55 74.46 L247.74 74.41 L248.92 74.36 L250.10 74.32 L251.28 74.30 L252.47 74.28 L253.65 74.27 L254.83 74.28 L256.01 74.29 L257.20 74.32 L258.38 74.37 L259.56 74.42 L260.75 74.49 L261.93 74.57 L263.11 74.66 L264.29 74.77 L265.48 74.90 L266.66 75.04 L267.84 75.19 L269.02 75.37 L270.21 75.56 L271.39 75.76 L272.57 75.99 L273.75 76.23 L274.94 76.49 L276.12 76.78 L277.30 77.08 L278.49 77.40 L279.67 77.74 L280.85 78.11 L282.03 78.50 L283.22 78.91 L284.40 79.35 L285.58 79.81 L286.76 80.30 L287.95 80.81 L289.13 81.35 L290.31 81.91 L291.50 82.51 L292.68 83.13 L293.86 83.79 L295.04 84.47 L296.23 85.19 L297.41 85.93 L298.59 86.71 L299.77 87.53 L300.96 88.38 L302.14 89.26 L303.32 90.18 L304.51 91.14 L305.69 92.13 L306.87 93.17 L308.05 94.24 L309.24 95.35 L310.42 96.51 L311.60 97.71 L312.78 98.95 L313.97 100.23 L315.15 101.56 L316.33 102.94 L317.51 104.36 L318.70 105.83 L319.88 107.35 L321.06 108.92 L322.25 110.53 L323.43 112.20 L324.61 113.92 L325.79 115.69 L326.98 117.52 L328.16 119.40 L329.34 121.34 L330.52 123.33 L331.71 125.37 L332.89 127.48 L334.07 129.64 L335.26 131.86 L336.44 134.14 L337.62 136.48 L338.80 138.88 L339.99 141.34 L341.17 143.86 L342.35 146.45 L343.53 149.09 L344.72 151.80 L345.90 154.57 L347.08 157.41 L348.26 160.31 L349.45 163.27 L350.63 166.30 L351.81 169.39 L353.00 172.55 L354.18 175.77 L355.36 179.06 L356.54 182.42 L357.73 185.83 L358.91 189.32 L360.09 192.86 L361.27 196.48 L362.46 200.15 L363.64 203.90 L364.82 207.70 L366.01 211.57 L367.19 215.51 L368.37 219.50 L369.55 223.56 L370.74 227.69 L371.92 231.87 L373.10 236.12 L374.28 240.43 L375.47 244.80 L376.65 249.22 L377.83 253.71 L379.02 258.26 L380.20 262.87 L381.38 267.53 L382.56 272.25 L383.75 277.02 L384.93 281.86 L386.11 286.74 L387.29 291.68 L388.48 296.68" stroke="#22e83c" transform="translate(0.36,0)"/>
<path d="M99.90 111.19 L101.08 110.86 L102.26 110.53 L103.45 110.19 L104.63 109.86 L105.81 109.53 L106.99 109.19 L108.18 108.86 L109.36 108.52 L110.54 108.19 L111.72 107.86 L112.91 107.53 L114.09 107.19 L115.27 106.86 L116.46 106.53 L117.64 106.20 L118.82 105.86 L120.00 105.53 L121.19 105.20 L122.37 104.87 L123.55 104.54 L124.73 104.21 L125.92 103.88 L127.10 103.55 L128.28 103.22 L129.47 102.89 L130.65 102.56 L131.83 102.23 L133.01 101.90 L134.20 101.57 L135.38 101.24 L136.56 100.91 L137.74 100.58 L138.93 100.26 L140.11 99.93 L141.29 99.60 L142.48 99.28 L143.66 98.95 L144.84 98.62 L146.02 98.30 L147.21 97.97 L148.39 97.65 L149.57 97.32 L150.75 97.00 L151.94 96.68 L153.12 96.36 L154.30 96.03 L155.48 95.71 L156.67 95.39 L157.85 95.07 L159.03 94.75 L160.22 94.43 L161.40 94.11 L162.58 93.79 L163.76 93.48 L164.95 93.16 L166.13 92.85 L167.31 92.53 L168.49 92.22 L169.68 91.90 L170.86 91.59 L172.04 91.28 L173.23 90.97 L174.41 90.66 L175.59 90.35 L176.77 90.04 L177.96 89.74 L179.14 89.43 L180.32 89.13 L181.50 88.82 L182.69 88.52 L183.87 88.22 L185.05 87.92 L186.24 87.62 L187.42 87.32 L188.60 87.03 L189.78 86.74 L190.97 86.44 L192.15 86.15 L193.33 85.86 L194.51 85.58 L195.70 85.29 L196.88 85.01 L198.06 84.73 L199.24 84.45 L200.43 84.17 L201.61 83.89 L202.79 83.62 L203.98 83.35 L205.16 83.08 L206.34 82.81 L207.52 82.55 L208.71 82.29 L209.89 82.03 L211.07 81.77 L212.25 81.52 L213.44 81.27 L214.62 81.02 L215.80 80.78 L216.99 80.54 L218.17 80.30 L219.35 80.07 L220.53 79.84 L221.72 79.62 L222.90 79.39 L224.08 79.18 L225.26 78.96 L226.45 78.75 L227.63 78.55 L228.81 78.35 L229.99 78.16 L231.18 77.97 L232.36 77.78 L233.54 77.60 L234.73 77.43 L235.91 77.26 L237.09 77.10 L238.27 76.94 L239.46 76.80 L240.64 76.65 L241.82 76.52 L243.00 76.39 L244.19 76.27 L245.37 76.16 L246.55 76.05 L247.74 75.95 L248.92 75.86 L250.10 75.78 L251.28 75.71 L252.47 75.65 L253.65 75.60 L254.83 75.56 L256.01 75.53 L257.20 75.51 L258.38 75.50 L259.56 75.50 L260.75 75.52 L261.93 75.54 L263.11 75.58 L264.29 75.64 L265.48 75.70 L266.66 75.78 L267.84 75.88 L269.02 75.99 L270.21 76.11 L271.39 76.26 L272.57 76.41 L273.75 76.59 L274.94 76.79 L276.12 77.00 L277.30 77.23 L278.49 77.48 L279.67 77.75 L280.85 78.05 L282.03 78.36 L283.22 78.70 L284.40 79.06 L285.58 79.45 L286.76 79.86 L287.95 80.29 L289.13 80.76 L290.31 81.25 L291.50 81.76 L292.68 82.31 L293.86 82.89 L295.04 83.50 L296.23 84.14 L297.41 84.82 L298.59 85.53 L299.77 86.27 L300.96 87.06 L302.14 87.88 L303.32 88.74 L304.51 89.64 L305.69 90.58 L306.87 91.56 L308.05 92.59 L309.24 93.67 L310.42 94.79 L311.60 95.96 L312.78 97.18 L313.97 98.45 L315.15 99.78 L316.33 101.16 L317.51 102.60 L318.70 104.09 L319.88 105.65 L321.06 107.27 L322.25 108.95 L323.43 110.70 L324.61 112.51 L325.79 114.39 L326.98 116.35 L328.16 118.38 L329.34 120.48 L330.52 122.66 L331.71 124.92 L332.89 127.27 L334.07 129.69 L335.26 132.21 L336.44 134.81 L337.62 137.50 L338.80 140.29 L339.99 143.17 L341.17 146.16 L342.35 149.24 L343.53 152.42 L344.72 155.72 L345.90 159.12 L347.08 162.63 L348.26 166.25 L349.45 169.99 L350.63 173.85 L351.81 177.83 L353.00 181.94 L354.18 186.17 L355.36 190.54 L356.54 195.03 L357.73 199.66 L358.91 204.43 L360.09 209.34 L361.27 214.39 L362.46 219.59 L363.64 224.93 L364.82 230.43 L366.01 236.08 L367.19 241.89 L368.37 247.86 L369.55 253.99 L370.74 260.28 L371.92 266.74 L373.10 273.37 L374.28 280.17 L375.47 287.14 L376.65 294.29 L377.83 301.62" stroke="#ffb428" transform="translate(-0.36,0)"/>
<path d="M99.90 111.19 L101.08 110.86 L102.26 110.53 L103.45 110.19 L104.63 109.86 L105.81 109.53 L106.99 109.19 L108.18 108.86 L109.36 108.52 L110.54 108.19 L111.72 107.86 L112.91 107.53 L114.09 107.19 L115.27 106.86 L116.46 106.53 L117.64 106.20 L118.82 105.86 L120.00 105.53 L121.19 105.20 L122.37 104.87 L123.55 104.54 L124.73 104.21 L125.92 103.88 L127.10 103.55 L128.28 103.22 L129.47 102.89 L130.65 102.56 L131.83 102.23 L133.01 101.90 L134.20 101.57 L135.38 101.24 L136.56 100.91 L137.74 100.58 L138.93 100.26 L140.11 99.93 L141.29 99.60 L142.48 99.28 L143.66 98.95 L144.84 98.62 L146.02 98.30 L147.21 97.97 L148.39 97.65 L149.57 97.32 L150.75 97.00 L151.94 96.68 L153.12 96.36 L154.30 96.03 L155.48 95.71 L156.67 95.39 L157.85 95.07 L159.03 94.75 L160.22 94.43 L161.40 94.11 L162.58 93.79 L163.76 93.48 L164.95 93.16 L166.13 92.85 L167.31 92.53 L168.49 92.22 L169.68 91.90 L170.86 91.59 L172.04 91.28 L173.23 90.97 L174.41 90.66 L175.59 90.35 L176.77 90.04 L177.96 89.74 L179.14 89.43 L180.32 89.13 L181.50 88.82 L182.69 88.52 L183.87 88.22 L185.05 87.92 L186.24 87.62 L187.42 87.32 L188.60 87.03 L189.78 86.74 L190.97 86.44 L192.15 86.15 L193.33 85.86 L194.51 85.58 L195.70 85.29 L196.88 85.01 L198.06 84.73 L199.24 84.45 L200.43 84.17 L201.61 83.89 L202.79 83.62 L203.98 83.35 L205.16 83.08 L206.34 82.81 L207.52 82.55 L208.71 82.29 L209.89 82.03 L211.07 81.77 L212.25 81.52 L213.44 81.27 L214.62 81.02 L215.80 80.78 L216.99 80.54 L218.17 80.30 L219.35 80.07 L220.53 79.84 L221.72 79.62 L222.90 79.39 L224.08 79.18 L225.26 78.96 L226.45 78.75 L227.63 78.55 L228.81 78.35 L229.99 78.16 L231.18 77.97 L232.36 77.78 L233.54 77.60 L234.73 77.43 L235.91 77.26 L237.09 77.10 L238.27 76.94 L239.46 76.80 L240.64 76.65 L241.82 76.52 L243.00 76.39 L244.19 76.27 L245.37 76.16 L246.55 76.05 L247.74 75.95 L248.92 75.86 L250.10 75.78 L251.28 75.71 L252.47 75.65 L253.65 75.60 L254.83 75.56 L256.01 75.53 L257.20 75.51 L258.38 75.50 L259.56 75.50 L260.75 75.52 L261.93 75.54 L263.11 75.58 L264.29 75.64 L265.48 75.70 L266.66 75.78 L267.84 75.88 L269.02 75.99 L270.21 76.11 L271.39 76.26 L272.57 76.41 L273.75 76.59 L274.94 76.79 L276.12 77.00 L277.30 77.23 L278.49 77.48 L279.67 77.75 L280.85 78.05 L282.03 78.36 L283.22 78.70 L284.40 79.06 L285.58 79.45 L286.76 79.86 L287.95 80.29 L289.13 80.76 L290.31 81.25 L291.50 81.76 L292.68 82.31 L293.86 82.89 L295.04 83.50 L296.23 84.14 L297.41 84.82 L298.59 85.53 L299.77 86.27 L300.96 87.06 L302.14 87.88 L303.32 88.74 L304.51 89.64 L305.69 90.58 L306.87 91.56 L308.05 92.59 L309.24 93.67 L310.42 94.79 L311.60 95.96 L312.78 97.18 L313.97 98.45 L315.15 99.78 L316.33 101.16 L317.51 102.60 L318.70 104.09 L319.88 105.65 L321.06 107.27 L322.25 108.95 L323.43 110.70 L324.61 112.51 L325.79 114.39 L326.98 116.35 L328.16 118.38 L329.34 120.48 L330.52 122.66 L331.71 124.92 L332.89 127.27 L334.07 129.69 L335.26 132.21 L336.44 134.81 L337.62 137.50 L338.80 140.29 L339.99 143.17 L341.17 146.16 L342.35 149.24 L343.53 152.42 L344.72 155.72 L345.90 159.12 L347.08 162.63 L348.26 166.25 L349.45 169.99 L350.63 173.85 L351.81 177.83 L353.00 181.94 L354.18 186.17 L355.36 190.54 L356.54 195.03 L357.73 199.66 L358.91 204.43 L360.09 209.34 L361.27 214.39 L362.46 219.59 L363.64 224.93 L364.82 230.43 L366.01 236.08 L367.19 241.89 L368.37 247.86 L369.55 253.99 L370.74 260.28 L371.92 266.74 L373.10 273.37 L374.28 280.17 L375.47 287.14 L376.65 294.29 L377.83 301.62" stroke="#ffb428" transform="translate(0.36,0)"/>
<path d="M99.90 112.31 L101.08 111.97 L102.26 111.64 L103.45 111.31 L104.63 110.97 L105.81 110.64 L106.99 110.30 L108.18 109.97 L109.36 109.64 L110.54 109.30 L111.72 108.97 L112.91 108.64 L114.09 108.30 L115.27 107.97 L116.46 107.64 L117.64 107.31 L118.82 106.97 L120.00 106.64 L121.19 106.31 L122.37 105.98 L123.55 105.65 L124.73 105.31 L125.92 104.98 L127.10 104.65 L128.28 104.32 L129.47 103.99 L130.65 103.66 L131.83 103.33 L133.01 103.00 L134.20 102.67 L135.38 102.34 L136.56 102.01 L137.74 101.69 L138.93 101.36 L140.11 101.03 L141.29 100.70 L142.48 100.37 L143.66 100.05 L144.84 99.72 L146.02 99.39 L147.21 99.07 L148.39 98.74 L149.57 98.42 L150.75 98.09 L151.94 97.77 L153.12 97.44 L154.30 97.12 L155.48 96.80 L156.67 96.48 L157.85 96.16 L159.03 95.83 L160.22 95.51 L161.40 95.19 L162.58 94.87 L163.76 94.56 L164.95 94.24 L166.13 93.92 L167.31 93.60 L168.49 93.29 L169.68 92.97 L170.86 92.66 L172.04 92.35 L173.23 92.03 L174.41 91.72 L175.59 91.41 L176.77 91.10 L177.96 90.79 L179.14 90.48 L180.32 90.18 L181.50 89.87 L182.69 89.57 L183.87 89.26 L185.05 88.96 L186.24 88.66 L187.42 88.36 L188.60 88.06 L189.78 87.76 L190.97 87.47 L192.15 87.18 L193.33 86.88 L194.51 86.59 L195.70 86.30 L196.88 86.02 L198.06 85.73 L199.24 85.45 L200.43 85.16 L201.61 84.88 L202.79 84.61 L203.98 84.33 L205.16 84.06 L206.34 83.78 L207.52 83.52 L208.71 83.25 L209.89 82.99 L211.07 82.72 L212.25 82.47 L213.44 82.21 L214.62 81.96 L215.80 81.71 L216.99 81.46 L218.17 81.22 L219.35 80.98 L220.53 80.74 L221.72 80.50 L222.90 80.28 L224.08 80.05 L225.26 79.83 L226.45 79.61 L227.63 79.40 L228.81 79.19 L229.99 78.98 L231.18 78.78 L232.36 78.59 L233.54 78.40 L234.73 78.22 L235.91 78.04 L237.09 77.86 L238.27 77.70 L239.46 77.53 L240.64 77.38 L241.82 77.23 L243.00 77.09 L244.19 76.95 L245.37 76.83 L246.55 76.71 L247.74 76.59 L248.92 76.49 L250.10 76.39 L251.28 76.31 L252.47 76.23 L253.65 76.16 L254.83 76.10 L256.01 76.05 L257.20 76.01 L258.38 75.98 L259.56 75.96 L260.75 75.96 L261.93 75.96 L263.11 75.98 L264.29 76.01 L265.48 76.05 L266.66 76.11 L267.84 76.18 L269.02 76.27 L270.21 76.37 L271.39 76.48 L272.57 76.62 L273.75 76.77 L274.94 76.93 L276.12 77.12 L277.30 77.32 L278.49 77.54 L279.67 77.79 L280.85 78.05 L282.03 78.34 L283.22 78.64 L284.40 78.97 L285.58 79.33 L286.76 79.71 L287.95 80.11 L289.13 80.54 L290.31 81.00 L291.50 81.48 L292.68 82.00 L293.86 82.55 L295.04 83.12 L296.23 83.73 L297.41 84.38 L298.59 85.06 L299.77 85.77 L300.96 86.53 L302.14 87.32 L303.32 88.15 L304.51 89.03 L305.69 89.94 L306.87 90.91 L308.05 91.92 L309.24 92.97 L310.42 94.08 L311.60 95.24 L312.78 96.45 L313.97 97.72 L315.15 99.04 L316.33 100.42 L317.51 101.87 L318.70 103.38 L319.88 104.95 L321.06 106.60 L322.25 108.31 L323.43 110.10 L324.61 111.96 L325.79 113.90 L326.98 115.92 L328.16 118.03 L329.34 120.22 L330.52 122.51 L331.71 124.88 L332.89 127.36 L334.07 129.93 L335.26 132.61 L336.44 135.40 L337.62 138.30 L338.80 141.31 L339.99 144.45 L341.17 147.71 L342.35 151.09 L343.53 154.61 L344.72 158.27 L345.90 162.07 L347.08 166.01 L348.26 170.11 L349.45 174.37 L350.63 178.79 L351.81 183.39 L353.00 188.15 L354.18 193.11 L355.36 198.24 L356.54 203.58 L357.73 209.12 L358.91 214.86 L360.09 220.83 L361.27 227.02 L362.46 233.44 L363.64 240.11 L364.82 247.02 L366.01 254.19 L367.19 261.63 L368.37 269.35 L369.55 277.36 L370.74 285.66 L371.92 294.28 L373.10 303.21" stroke="#ff1212" transform="translate(-0.36,0)"/>
<path d="M99.90 112.31 L101.08 111.97 L102.26 111.64 L103.45 111.31 L104.63 110.97 L105.81 110.64 L106.99 110.30 L108.18 109.97 L109.36 109.64 L110.54 109.30 L111.72 108.97 L112.91 108.64 L114.09 108.30 L115.27 107.97 L116.46 107.64 L117.64 107.31 L118.82 106.97 L120.00 106.64 L121.19 106.31 L122.37 105.98 L123.55 105.65 L124.73 105.31 L125.92 104.98 L127.10 104.65 L128.28 104.32 L129.47 103.99 L130.65 103.66 L131.83 103.33 L133.01 103.00 L134.20 102.67 L135.38 102.34 L136.56 102.01 L137.74 101.69 L138.93 101.36 L140.11 101.03 L141.29 100.70 L142.48 100.37 L143.66 100.05 L144.84 99.72 L146.02 99.39 L147.21 99.07 L148.39 98.74 L149.57 98.42 L150.75 98.09 L151.94 97.77 L153.12 97.44 L154.30 97.12 L155.48 96.80 L156.67 96.48 L157.85 96.16 L159.03 95.83 L160.22 95.51 L161.40 95.19 L162.58 94.87 L163.76 94.56 L164.95 94.24 L166.13 93.92 L167.31 93.60 L168.49 93.29 L169.68 92.97 L170.86 92.66 L172.04 92.35 L173.23 92.03 L174.41 91.72 L175.59 91.41 L176.77 91.10 L177.96 90.79 L179.14 90.48 L180.32 90.18 L181.50 89.87 L182.69 89.57 L183.87 89.26 L185.05 88.96 L186.24 88.66 L187.42 88.36 L188.60 88.06 L189.78 87.76 L190.97 87.47 L192.15 87.18 L193.33 86.88 L194.51 86.59 L195.70 86.30 L196.88 86.02 L198.06 85.73 L199.24 85.45 L200.43 85.16 L201.61 84.88 L202.79 84.61 L203.98 84.33 L205.16 84.06 L206.34 83.78 L207.52 83.52 L208.71 83.25 L209.89 82.99 L211.07 82.72 L212.25 82.47 L213.44 82.21 L214.62 81.96 L215.80 81.71 L216.99 81.46 L218.17 81.22 L219.35 80.98 L220.53 80.74 L221.72 80.50 L222.90 80.28 L224.08 80.05 L225.26 79.83 L226.45 79.61 L227.63 79.40 L228.81 79.19 L229.99 78.98 L231.18 78.78 L232.36 78.59 L233.54 78.40 L234.73 78.22 L235.91 78.04 L237.09 77.86 L238.27 77.70 L239.46 77.53 L240.64 77.38 L241.82 77.23 L243.00 77.09 L244.19 76.95 L245.37 76.83 L246.55 76.71 L247.74 76.59 L248.92 76.49 L250.10 76.39 L251.28 76.31 L252.47 76.23 L253.65 76.16 L254.83 76.10 L256.01 76.05 L257.20 76.01 L258.38 75.98 L259.56 75.96 L260.75 75.96 L261.93 75.96 L263.11 75.98 L264.29 76.01 L265.48 76.05 L266.66 76.11 L267.84 76.18 L269.02 76.27 L270.21 76.37 L271.39 76.48 L272.57 76.62 L273.75 76.77 L274.94 76.93 L276.12 77.12 L277.30 77.32 L278.49 77.54 L279.67 77.79 L280.85 78.05 L282.03 78.34 L283.22 78.64 L284.40 78.97 L285.58 79.33 L286.76 79.71 L287.95 80.11 L289.13 80.54 L290.31 81.00 L291.50 81.48 L292.68 82.00 L293.86 82.55 L295.04 83.12 L296.23 83.73 L297.41 84.38 L298.59 85.06 L299.77 85.77 L300.96 86.53 L302.14 87.32 L303.32 88.15 L304.51 89.03 L305.69 89.94 L306.87 90.91 L308.05 91.92 L309.24 92.97 L310.42 94.08 L311.60 95.24 L312.78 96.45 L313.97 97.72 L315.15 99.04 L316.33 100.42 L317.51 101.87 L318.70 103.38 L319.88 104.95 L321.06 106.60 L322.25 108.31 L323.43 110.10 L324.61 111.96 L325.79 113.90 L326.98 115.92 L328.16 118.03 L329.34 120.22 L330.52 122.51 L331.71 124.88 L332.89 127.36 L334.07 129.93 L335.26 132.61 L336.44 135.40 L337.62 138.30 L338.80 141.31 L339.99 144.45 L341.17 147.71 L342.35 151.09 L343.53 154.61 L344.72 158.27 L345.90 162.07 L347.08 166.01 L348.26 170.11 L349.45 174.37 L350.63 178.79 L351.81 183.39 L353.00 188.15 L354.18 193.11 L355.36 198.24 L356.54 203.58 L357.73 209.12 L358.91 214.86 L360.09 220.83 L361.27 227.02 L362.46 233.44 L363.64 240.11 L364.82 247.02 L366.01 254.19 L367.19 261.63 L368.37 269.35 L369.55 277.36 L370.74 285.66 L371.92 294.28 L373.10 303.21" stroke="#ff1212" transform="translate(0.36,0)"/>
</g>
<line x1="120.05" y1="176.60" x2="166.9" y2="176.60" stroke="#471547" stroke-width="1.6"/>
<line x1="120.05" y1="189.90" x2="166.9" y2="189.90" stroke="#5a3ae6" stroke-width="1.6"/>
<line x1="120.05" y1="203.20" x2="166.9" y2="203.20" stroke="#22c8ff" stroke-width="1.6"/>
<line x1="120.05" y1="216.40" x2="166.9" y2="216.40" stroke="#22e83c" stroke-width="1.6"/>
<line x1="120.05" y1="229.70" x2="166.9" y2="229.70" stroke="#ffb428" stroke-width="1.6"/>
<line x1="120.05" y1="243.15" x2="166.9" y2="243.15" stroke="#ff1212" stroke-width="1.6"/>
<path d="M108.17 10.25 L107.17 11.26 L106.16 12.77 L105.14 14.79 L104.64 17.32 L104.64 19.34 L105.14 21.86 L106.16 23.88 L107.17 25.39 L108.17 26.41 M117.27 15.80 L117.27 22.87 M117.27 17.32 L116.25 16.30 L115.24 15.80 L113.73 15.80 L112.72 16.30 L111.71 17.32 L111.20 18.83 L111.20 19.84 L111.71 21.36 L112.72 22.37 L113.73 22.87 L115.24 22.87 L116.25 22.37 L117.27 21.36 M120.80 10.25 L121.81 11.26 L122.82 12.77 L123.83 14.79 L124.33 17.32 L124.33 19.34 L123.83 21.86 L122.82 23.88 L121.81 25.39 L120.80 26.41" stroke="#000" stroke-width="0.66" fill="none" stroke-linecap="round" stroke-linejoin="round" opacity="1.00"/>
<path d="M185.76 7.35 L185.76 20.90 M181.31 7.35 L190.20 7.35 M193.59 13.80 L205.02 13.80 M193.59 17.03 L205.02 17.03 M210.96 7.35 L217.95 7.35 L214.14 12.51 L216.04 12.51 L217.31 13.16 L217.95 13.80 L218.58 15.74 L218.58 17.03 L217.95 18.96 L216.68 20.25 L214.77 20.90 L212.87 20.90 L210.96 20.25 L210.33 19.61 L209.69 18.32" stroke="#000" stroke-width="0.66" fill="none" stroke-linecap="round" stroke-linejoin="round" opacity="1.00"/>
<path d="M222.44 7.35 L222.44 20.90 M222.44 7.35 L228.16 20.90 M233.88 7.35 L228.16 20.90 M233.88 7.35 L233.88 20.90" stroke="#000" stroke-width="0.66" fill="none" stroke-linecap="round" stroke-linejoin="round" opacity="1.00"/>
<path d="M238.62 7.35 L238.62 20.90 M247.30 7.35 L238.62 16.38 M241.72 13.16 L247.30 20.90" stroke="#000" stroke-width="0.66" fill="none" stroke-linecap="round" stroke-linejoin="round" opacity="1.00"/>
<path d="M285.29 7.35 L284.08 8.00 L282.87 9.29 L282.26 10.58 L281.66 12.51 L281.66 15.74 L282.26 17.67 L282.87 18.96 L284.08 20.25 L285.29 20.90 L287.71 20.90 L288.92 20.25 L290.13 18.96 L290.74 17.67 L291.34 15.74 L291.34 12.51 L290.74 10.58 L290.13 9.29 L288.92 8.00 L287.71 7.35 L285.29 7.35" stroke="#000" stroke-width="0.66" fill="none" stroke-linecap="round" stroke-linejoin="round" opacity="1.00"/>
<path d="M306.60 7.35 L306.60 20.90" stroke="#000" stroke-width="0.66" fill="none" stroke-linecap="round" stroke-linejoin="round" opacity="1.00"/>
<path d="M311.72 7.35 L311.72 20.90 M311.72 7.35 L317.57 7.35 L319.52 8.00 L320.18 8.64 L320.82 9.93 L320.82 11.87 L320.18 13.16 L319.52 13.80 L317.57 14.45 L311.72 14.45" stroke="#000" stroke-width="0.66" fill="none" stroke-linecap="round" stroke-linejoin="round" opacity="1.00"/>
<path d="M94.48 279.97 L95.49 279.46 L97.00 277.94 L97.00 288.55" stroke="#000" stroke-width="0.66" fill="none" stroke-linecap="round" stroke-linejoin="round" opacity="1.00"/>
<path d="M167.06 279.97 L168.07 279.46 L169.58 277.94 L169.58 288.55 M178.67 277.94 L177.16 278.45 L176.15 279.97 L175.64 282.49 L175.64 284.00 L176.15 286.53 L177.16 288.05 L178.67 288.55 L179.68 288.55 L181.20 288.05 L182.21 286.53 L182.71 284.00 L182.71 282.49 L182.21 279.97 L181.20 278.45 L179.68 277.94 L178.67 277.94" stroke="#000" stroke-width="0.66" fill="none" stroke-linecap="round" stroke-linejoin="round" opacity="1.00"/>
<path d="M239.63 279.97 L240.64 279.46 L242.16 277.94 L242.16 288.55 M251.25 277.94 L249.73 278.45 L248.72 279.97 L248.22 282.49 L248.22 284.00 L248.72 286.53 L249.73 288.05 L251.25 288.55 L252.25 288.55 L253.77 288.05 L254.78 286.53 L255.28 284.00 L255.28 282.49 L254.78 279.97 L253.77 278.45 L252.25 277.94 L251.25 277.94 M261.35 277.94 L259.83 278.45 L258.82 279.97 L258.31 282.49 L258.31 284.00 L258.82 286.53 L259.83 288.05 L261.35 288.55 L262.36 288.55 L263.87 288.05 L264.88 286.53 L265.39 284.00 L265.39 282.49 L264.88 279.97 L263.87 278.45 L262.36 277.94 L261.35 277.94" stroke="#000" stroke-width="0.66" fill="none" stroke-linecap="round" stroke-linejoin="round" opacity="1.00"/>
<path d="M312.21 279.97 L313.22 279.46 L314.73 277.94 L314.73 288.55 M323.82 277.94 L322.31 278.45 L321.30 279.97 L320.79 282.49 L320.79 284.00 L321.30 286.53 L322.31 288.05 L323.82 288.55 L324.83 288.55 L326.35 288.05 L327.36 286.53 L327.86 284.00 L327.86 282.49 L327.36 279.97 L326.35 278.45 L324.83 277.94 L323.82 277.94 M333.92 277.94 L332.41 278.45 L331.40 279.97 L330.89 282.49 L330.89 284.00 L331.40 286.53 L332.41 288.05 L333.92 288.55 L334.93 288.55 L336.45 288.05 L337.46 286.53 L337.96 284.00 L337.96 282.49 L337.46 279.97 L336.45 278.45 L334.93 277.94 L333.92 277.94 M344.02 277.94 L342.51 278.45 L341.50 279.97 L340.99 282.49 L340.99 284.00 L341.50 286.53 L342.51 288.05 L344.02 288.55 L345.03 288.55 L346.55 288.05 L347.56 286.53 L348.06 284.00 L348.06 282.49 L347.56 279.97 L346.55 278.45 L345.03 277.94 L344.02 277.94" stroke="#000" stroke-width="0.66" fill="none" stroke-linecap="round" stroke-linejoin="round" opacity="1.00"/>
<path d="M384.78 279.97 L385.79 279.46 L387.31 277.94 L387.31 288.55 M396.40 277.94 L394.88 278.45 L393.87 279.97 L393.37 282.49 L393.37 284.00 L393.87 286.53 L394.88 288.05 L396.40 288.55 L397.41 288.55 L398.92 288.05 L399.93 286.53 L400.44 284.00 L400.44 282.49 L399.93 279.97 L398.92 278.45 L397.41 277.94 L396.40 277.94 M406.50 277.94 L404.98 278.45 L403.97 279.97 L403.47 282.49 L403.47 284.00 L403.97 286.53 L404.98 288.05 L406.50 288.55 L407.51 288.55 L409.02 288.05 L410.03 286.53 L410.54 284.00 L410.54 282.49 L410.03 279.97 L409.02 278.45 L407.51 277.94 L406.50 277.94 M416.60 277.94 L415.08 278.45 L414.07 279.97 L413.57 282.49 L413.57 284.00 L414.07 286.53 L415.08 288.05 L416.60 288.55 L417.61 288.55 L419.12 288.05 L420.13 286.53 L420.64 284.00 L420.64 282.49 L420.13 279.97 L419.12 278.45 L417.61 277.94 L416.60 277.94 M426.70 277.94 L425.18 278.45 L424.17 279.97 L423.67 282.49 L423.67 284.00 L424.17 286.53 L425.18 288.05 L426.70 288.55 L427.71 288.55 L429.22 288.05 L430.23 286.53 L430.74 284.00 L430.74 282.49 L430.23 279.97 L429.22 278.45 L427.71 277.94 L426.70 277.94" stroke="#000" stroke-width="0.66" fill="none" stroke-linecap="round" stroke-linejoin="round" opacity="1.00"/>
<path d="M59.93 256.87 L60.94 256.36 L62.45 254.85 L62.45 265.45 M71.55 254.85 L70.03 255.35 L69.02 256.87 L68.52 259.39 L68.52 260.91 L69.02 263.43 L70.03 264.95 L71.55 265.45 L72.55 265.45 L74.07 264.95 L75.08 263.43 L75.58 260.91 L75.58 259.39 L75.08 256.87 L74.07 255.35 L72.55 254.85 L71.55 254.85" stroke="#000" stroke-width="0.66" fill="none" stroke-linecap="round" stroke-linejoin="round" opacity="1.00"/>
<path d="M78.50 255.15 L83.90 255.15 M90.20 251.55 L87.20 257.85 M86.00 251.55 L90.20 251.55" stroke="#000" stroke-width="0.60" fill="none" stroke-linecap="round" stroke-linejoin="round" opacity="1.00"/>
<path d="M59.93 218.24 L60.94 217.74 L62.45 216.22 L62.45 226.83 M71.55 216.22 L70.03 216.73 L69.02 218.24 L68.52 220.77 L68.52 222.28 L69.02 224.81 L70.03 226.32 L71.55 226.83 L72.55 226.83 L74.07 226.32 L75.08 224.81 L75.58 222.28 L75.58 220.77 L75.08 218.24 L74.07 216.73 L72.55 216.22 L71.55 216.22" stroke="#000" stroke-width="0.66" fill="none" stroke-linecap="round" stroke-linejoin="round" opacity="1.00"/>
<path d="M78.50 216.53 L83.90 216.53 M89.90 213.83 L89.60 213.23 L88.70 212.93 L88.10 212.93 L87.20 213.23 L86.60 214.13 L86.30 215.63 L86.30 217.13 L86.60 218.33 L87.20 218.93 L88.10 219.23 L88.40 219.23 L89.30 218.93 L89.90 218.33 L90.20 217.43 L90.20 217.13 L89.90 216.23 L89.30 215.63 L88.40 215.33 L88.10 215.33 L87.20 215.63 L86.60 216.23 L86.30 217.13" stroke="#000" stroke-width="0.60" fill="none" stroke-linecap="round" stroke-linejoin="round" opacity="1.00"/>
<path d="M59.93 173.97 L60.94 173.47 L62.45 171.95 L62.45 182.56 M71.55 171.95 L70.03 172.46 L69.02 173.97 L68.52 176.50 L68.52 178.01 L69.02 180.54 L70.03 182.05 L71.55 182.56 L72.55 182.56 L74.07 182.05 L75.08 180.54 L75.58 178.01 L75.58 176.50 L75.08 173.97 L74.07 172.46 L72.55 171.95 L71.55 171.95" stroke="#000" stroke-width="0.66" fill="none" stroke-linecap="round" stroke-linejoin="round" opacity="1.00"/>
<path d="M78.50 172.26 L83.90 172.26 M89.60 168.66 L86.60 168.66 L86.30 171.36 L86.60 171.06 L87.50 170.76 L88.40 170.76 L89.30 171.06 L89.90 171.66 L90.20 172.56 L90.20 173.16 L89.90 174.06 L89.30 174.66 L88.40 174.96 L87.50 174.96 L86.60 174.66 L86.30 174.36 L86.00 173.76" stroke="#000" stroke-width="0.60" fill="none" stroke-linecap="round" stroke-linejoin="round" opacity="1.00"/>
<path d="M59.93 129.70 L60.94 129.19 L62.45 127.68 L62.45 138.28 M71.55 127.68 L70.03 128.18 L69.02 129.70 L68.52 132.22 L68.52 133.74 L69.02 136.26 L70.03 137.78 L71.55 138.28 L72.55 138.28 L74.07 137.78 L75.08 136.26 L75.58 133.74 L75.58 132.22 L75.08 129.70 L74.07 128.18 L72.55 127.68 L71.55 127.68" stroke="#000" stroke-width="0.66" fill="none" stroke-linecap="round" stroke-linejoin="round" opacity="1.00"/>
<path d="M78.50 127.98 L83.90 127.98 M89.00 124.38 L86.00 128.58 L90.50 128.58 M89.00 124.38 L89.00 130.68" stroke="#000" stroke-width="0.60" fill="none" stroke-linecap="round" stroke-linejoin="round" opacity="1.00"/>
<path d="M59.93 85.43 L60.94 84.92 L62.45 83.41 L62.45 94.01 M71.55 83.41 L70.03 83.91 L69.02 85.43 L68.52 87.95 L68.52 89.47 L69.02 91.99 L70.03 93.51 L71.55 94.01 L72.55 94.01 L74.07 93.51 L75.08 91.99 L75.58 89.47 L75.58 87.95 L75.08 85.43 L74.07 83.91 L72.55 83.41 L71.55 83.41" stroke="#000" stroke-width="0.66" fill="none" stroke-linecap="round" stroke-linejoin="round" opacity="1.00"/>
<path d="M78.50 83.71 L83.90 83.71 M86.60 80.11 L89.90 80.11 L88.10 82.51 L89.00 82.51 L89.60 82.81 L89.90 83.11 L90.20 84.01 L90.20 84.61 L89.90 85.51 L89.30 86.11 L88.40 86.41 L87.50 86.41 L86.60 86.11 L86.30 85.81 L86.00 85.21" stroke="#000" stroke-width="0.60" fill="none" stroke-linecap="round" stroke-linejoin="round" opacity="1.00"/>
<path d="M59.93 41.16 L60.94 40.65 L62.45 39.14 L62.45 49.74 M71.55 39.14 L70.03 39.64 L69.02 41.16 L68.52 43.68 L68.52 45.20 L69.02 47.72 L70.03 49.23 L71.55 49.74 L72.55 49.74 L74.07 49.23 L75.08 47.72 L75.58 45.20 L75.58 43.68 L75.08 41.16 L74.07 39.64 L72.55 39.14 L71.55 39.14" stroke="#000" stroke-width="0.66" fill="none" stroke-linecap="round" stroke-linejoin="round" opacity="1.00"/>
<path d="M78.50 39.44 L83.90 39.44 M86.30 37.34 L86.30 37.04 L86.60 36.44 L86.90 36.14 L87.50 35.84 L88.70 35.84 L89.30 36.14 L89.60 36.44 L89.90 37.04 L89.90 37.64 L89.60 38.24 L89.00 39.14 L86.00 42.14 L90.20 42.14" stroke="#000" stroke-width="0.60" fill="none" stroke-linecap="round" stroke-linejoin="round" opacity="1.00"/>
<path d="M228.62 298.19 L228.62 308.80 M228.62 298.19 L235.19 298.19 M228.62 303.25 L232.66 303.25 M228.62 308.80 L235.19 308.80 M249.83 296.18 L248.82 297.19 L247.81 298.70 L246.80 300.72 L246.30 303.25 L246.30 305.26 L246.80 307.79 L247.81 309.81 L248.82 311.32 L249.83 312.34 M252.86 304.76 L258.92 304.76 L258.92 303.75 L258.42 302.74 L257.91 302.24 L256.90 301.73 L255.39 301.73 L254.38 302.24 L253.37 303.25 L252.86 304.76 L252.86 305.77 L253.37 307.29 L254.38 308.30 L255.39 308.80 L256.90 308.80 L257.91 308.30 L258.92 307.29 M260.94 298.19 L264.98 308.80 M269.02 298.19 L264.98 308.80 M271.04 296.18 L272.05 297.19 L273.06 298.70 L274.07 300.72 L274.58 303.25 L274.58 305.26 L274.07 307.79 L273.06 309.81 L272.05 311.32 L271.04 312.34" stroke="#000" stroke-width="0.66" fill="none" stroke-linecap="round" stroke-linejoin="round" opacity="1.00"/>
<path d="M176.02 171.96 L174.64 177.00 M179.47 172.32 L179.12 171.96 L178.78 171.96 L178.09 172.32 L176.71 173.76 L176.02 174.12 L175.67 174.12 M175.67 174.12 L176.36 174.48 L176.71 174.84 L177.40 176.64 L177.74 177.00 L178.09 177.00 L178.43 176.64" stroke="#111" stroke-width="0.78" fill="none" stroke-linecap="round" stroke-linejoin="round" opacity="1.00"/>
<path d="M182.66 172.53 L189.14 172.53 M182.66 174.99 L189.14 174.99" stroke="#111" stroke-width="0.78" fill="none" stroke-linecap="round" stroke-linejoin="round" opacity="1.00"/>
<path d="M198.93 171.24 L198.93 170.88 L199.28 170.16 L199.62 169.80 L200.31 169.44 L201.69 169.44 L202.38 169.80 L202.72 170.16 L203.07 170.88 L203.07 171.60 L202.72 172.32 L202.03 173.40 L198.59 177.00 L203.41 177.00" stroke="#111" stroke-width="0.78" fill="none" stroke-linecap="round" stroke-linejoin="round" opacity="1.00"/>
<path d="M176.02 186.01 L174.64 191.05 M179.47 186.37 L179.12 186.01 L178.78 186.01 L178.09 186.37 L176.71 187.81 L176.02 188.17 L175.67 188.17 M175.67 188.17 L176.36 188.53 L176.71 188.89 L177.40 190.69 L177.74 191.05 L178.09 191.05 L178.43 190.69" stroke="#5a3ae6" stroke-width="0.78" fill="none" stroke-linecap="round" stroke-linejoin="round" opacity="1.00"/>
<path d="M182.66 186.58 L189.14 186.58 M182.66 189.04 L189.14 189.04" stroke="#5a3ae6" stroke-width="0.78" fill="none" stroke-linecap="round" stroke-linejoin="round" opacity="1.00"/>
<path d="M199.28 183.49 L203.07 183.49 L201.00 186.37 L202.03 186.37 L202.72 186.73 L203.07 187.09 L203.41 188.17 L203.41 188.89 L203.07 189.97 L202.38 190.69 L201.34 191.05 L200.31 191.05 L199.28 190.69 L198.93 190.33 L198.59 189.61" stroke="#5a3ae6" stroke-width="0.78" fill="none" stroke-linecap="round" stroke-linejoin="round" opacity="1.00"/>
<path d="M176.02 200.06 L174.64 205.10 M179.47 200.42 L179.12 200.06 L178.78 200.06 L178.09 200.42 L176.71 201.86 L176.02 202.22 L175.67 202.22 M175.67 202.22 L176.36 202.58 L176.71 202.94 L177.40 204.74 L177.74 205.10 L178.09 205.10 L178.43 204.74" stroke="#22c8ff" stroke-width="0.78" fill="none" stroke-linecap="round" stroke-linejoin="round" opacity="1.00"/>
<path d="M182.66 200.63 L189.14 200.63 M182.66 203.09 L189.14 203.09" stroke="#22c8ff" stroke-width="0.78" fill="none" stroke-linecap="round" stroke-linejoin="round" opacity="1.00"/>
<path d="M202.72 197.54 L199.28 197.54 L198.93 200.78 L199.28 200.42 L200.31 200.06 L201.34 200.06 L202.38 200.42 L203.07 201.14 L203.41 202.22 L203.41 202.94 L203.07 204.02 L202.38 204.74 L201.34 205.10 L200.31 205.10 L199.28 204.74 L198.93 204.38 L198.59 203.66" stroke="#22c8ff" stroke-width="0.78" fill="none" stroke-linecap="round" stroke-linejoin="round" opacity="1.00"/>
<path d="M176.02 214.11 L174.64 219.15 M179.47 214.47 L179.12 214.11 L178.78 214.11 L178.09 214.47 L176.71 215.91 L176.02 216.27 L175.67 216.27 M175.67 216.27 L176.36 216.63 L176.71 216.99 L177.40 218.79 L177.74 219.15 L178.09 219.15 L178.43 218.79" stroke="#22e83c" stroke-width="0.78" fill="none" stroke-linecap="round" stroke-linejoin="round" opacity="1.00"/>
<path d="M182.66 214.68 L189.14 214.68 M182.66 217.14 L189.14 217.14" stroke="#22e83c" stroke-width="0.78" fill="none" stroke-linecap="round" stroke-linejoin="round" opacity="1.00"/>
<path d="M193.52 213.03 L194.21 212.67 L195.25 211.59 L195.25 219.15" stroke="#22e83c" stroke-width="0.78" fill="none" stroke-linecap="round" stroke-linejoin="round" opacity="1.00"/>
<path d="M201.66 211.59 L200.62 211.95 L199.93 213.03 L199.59 214.83 L199.59 215.91 L199.93 217.71 L200.62 218.79 L201.66 219.15 L202.34 219.15 L203.38 218.79 L204.07 217.71 L204.41 215.91 L204.41 214.83 L204.07 213.03 L203.38 211.95 L202.34 211.59 L201.66 211.59" stroke="#22e83c" stroke-width="0.78" fill="none" stroke-linecap="round" stroke-linejoin="round" opacity="1.00"/>
<path d="M176.02 228.16 L174.64 233.20 M179.47 228.52 L179.12 228.16 L178.78 228.16 L178.09 228.52 L176.71 229.96 L176.02 230.32 L175.67 230.32 M175.67 230.32 L176.36 230.68 L176.71 231.04 L177.40 232.84 L177.74 233.20 L178.09 233.20 L178.43 232.84" stroke="#ffb428" stroke-width="0.78" fill="none" stroke-linecap="round" stroke-linejoin="round" opacity="1.00"/>
<path d="M182.66 228.73 L189.14 228.73 M182.66 231.19 L189.14 231.19" stroke="#ffb428" stroke-width="0.78" fill="none" stroke-linecap="round" stroke-linejoin="round" opacity="1.00"/>
<path d="M193.18 225.64 L196.97 225.64 L194.90 228.52 L195.94 228.52 L196.62 228.88 L196.97 229.24 L197.31 230.32 L197.31 231.04 L196.97 232.12 L196.28 232.84 L195.25 233.20 L194.21 233.20 L193.18 232.84 L192.83 232.48 L192.49 231.76" stroke="#ffb428" stroke-width="0.78" fill="none" stroke-linecap="round" stroke-linejoin="round" opacity="1.00"/>
<path d="M200.28 225.64 L204.07 225.64 L202.00 228.52 L203.03 228.52 L203.72 228.88 L204.07 229.24 L204.41 230.32 L204.41 231.04 L204.07 232.12 L203.38 232.84 L202.34 233.20 L201.31 233.20 L200.28 232.84 L199.93 232.48 L199.59 231.76" stroke="#ffb428" stroke-width="0.78" fill="none" stroke-linecap="round" stroke-linejoin="round" opacity="1.00"/>
<path d="M176.06 239.69 L176.06 247.25 M176.06 239.69 L178.94 247.25 M181.82 239.69 L178.94 247.25 M181.82 239.69 L181.82 247.25 M188.87 242.21 L188.87 247.25 M188.87 243.29 L188.15 242.57 L187.43 242.21 L186.35 242.21 L185.63 242.57 L184.91 243.29 L184.55 244.37 L184.55 245.09 L184.91 246.17 L185.63 246.89 L186.35 247.25 L187.43 247.25 L188.15 246.89 L188.87 246.17 M191.58 242.21 L195.53 247.25 M195.53 242.21 L191.58 247.25 M197.89 242.21 L199.33 247.25 M200.77 242.21 L199.33 247.25 M200.77 242.21 L202.21 247.25 M203.65 242.21 L202.21 247.25 M206.01 244.37 L210.33 244.37 L210.33 243.65 L209.97 242.93 L209.61 242.57 L208.89 242.21 L207.81 242.21 L207.09 242.57 L206.37 243.29 L206.01 244.37 L206.01 245.09 L206.37 246.17 L207.09 246.89 L207.81 247.25 L208.89 247.25 L209.61 246.89 L210.33 246.17 M212.98 239.69 L212.98 247.25 M215.94 239.69 L215.94 247.25 M218.54 239.69 L218.90 240.05 L219.26 239.69 L218.90 239.33 L218.54 239.69 M218.90 242.21 L218.90 247.25 M225.87 242.21 L225.87 247.25 M225.87 243.29 L225.15 242.57 L224.43 242.21 L223.35 242.21 L222.63 242.57 L221.91 243.29 L221.55 244.37 L221.55 245.09 L221.91 246.17 L222.63 246.89 L223.35 247.25 L224.43 247.25 L225.15 246.89 L225.87 246.17 M228.94 242.21 L228.94 247.25 M228.94 243.65 L230.02 242.57 L230.74 242.21 L231.82 242.21 L232.54 242.57 L232.90 243.65 L232.90 247.25" stroke="#ff1212" stroke-width="0.78" fill="none" stroke-linecap="round" stroke-linejoin="round" opacity="1.00"/>
<path d="M187.84 21.77 L187.03 22.15 L186.22 22.92 L185.82 23.69 L185.41 24.85 L185.41 26.77 L185.82 27.93 L186.22 28.70 L187.03 29.46 L187.84 29.85 L189.47 29.85 L190.28 29.46 L191.09 28.70 L191.49 27.93 L191.90 26.77 L191.90 24.85 L191.49 23.69 L191.09 22.92 L190.28 22.15 L189.47 21.77 L187.84 21.77" stroke="#ff1212" stroke-width="0.75" fill="none" stroke-linecap="round" stroke-linejoin="round" opacity="1.00"/>
<path d="M194.34 20.38 L193.89 20.55 L193.59 21.08 L193.44 21.95 L193.44 22.48 L193.59 23.35 L193.89 23.88 L194.34 24.05 L194.64 24.05 L195.09 23.88 L195.39 23.35 L195.54 22.48 L195.54 21.95 L195.39 21.08 L195.09 20.55 L194.64 20.38 L194.34 20.38 M198.58 20.90 L198.58 24.05 M197.23 22.48 L199.93 22.48" stroke="#ff1212" stroke-width="0.62" fill="none" stroke-linecap="round" stroke-linejoin="round" opacity="1.00"/>
<path d="M265.94 21.77 L265.13 22.15 L264.32 22.92 L263.92 23.69 L263.51 24.85 L263.51 26.77 L263.92 27.93 L264.32 28.70 L265.13 29.46 L265.94 29.85 L267.56 29.85 L268.38 29.46 L269.19 28.70 L269.59 27.93 L270.00 26.77 L270.00 24.85 L269.59 23.69 L269.19 22.92 L268.38 22.15 L267.56 21.77 L265.94 21.77" stroke="#ff1212" stroke-width="0.75" fill="none" stroke-linecap="round" stroke-linejoin="round" opacity="1.00"/>
<path d="M273.34 20.38 L271.84 20.38 L271.69 21.95 L271.84 21.78 L272.29 21.60 L272.74 21.60 L273.19 21.78 L273.49 22.12 L273.64 22.65 L273.64 23.00 L273.49 23.53 L273.19 23.88 L272.74 24.05 L272.29 24.05 L271.84 23.88 L271.69 23.70 L271.54 23.35 M276.68 20.90 L276.68 24.05 M275.33 22.48 L278.03 22.48" stroke="#ff1212" stroke-width="0.62" fill="none" stroke-linecap="round" stroke-linejoin="round" opacity="1.00"/>
<path d="M322.75 21.77 L321.94 22.15 L321.12 22.92 L320.72 23.69 L320.31 24.85 L320.31 26.77 L320.72 27.93 L321.12 28.70 L321.94 29.46 L322.75 29.85 L324.37 29.85 L325.18 29.46 L325.99 28.70 L326.39 27.93 L326.80 26.77 L326.80 24.85 L326.39 23.69 L325.99 22.92 L325.18 22.15 L324.37 21.77 L322.75 21.77" stroke="#ff1212" stroke-width="0.75" fill="none" stroke-linecap="round" stroke-linejoin="round" opacity="1.00"/>
<path d="M330.29 20.90 L330.14 20.55 L329.69 20.38 L329.39 20.38 L328.94 20.55 L328.64 21.08 L328.49 21.95 L328.49 22.82 L328.64 23.53 L328.94 23.88 L329.39 24.05 L329.54 24.05 L329.99 23.88 L330.29 23.53 L330.44 23.00 L330.44 22.82 L330.29 22.30 L329.99 21.95 L329.54 21.78 L329.39 21.78 L328.94 21.95 L328.64 22.30 L328.49 22.82 M333.48 20.90 L333.48 24.05 M332.13 22.48 L334.83 22.48" stroke="#ff1212" stroke-width="0.62" fill="none" stroke-linecap="round" stroke-linejoin="round" opacity="1.00"/>
<path d="M273.43 267.23 L277.50 267.23 L275.28 270.19 L276.39 270.19 L277.13 270.56 L277.50 270.93 L277.87 272.04 L277.87 272.78 L277.50 273.89 L276.76 274.63 L275.65 275.00 L274.54 275.00 L273.43 274.63 L273.06 274.26 L272.69 273.52 M280.46 267.23 L280.46 275.00 M280.46 267.23 L283.42 275.00 M286.38 267.23 L283.42 275.00 M286.38 267.23 L286.38 275.00 M289.34 267.23 L289.34 275.00 M294.51 267.23 L289.34 272.41 M291.19 270.56 L294.51 275.00" stroke="#ff1212" stroke-width="0.75" fill="none" stroke-linecap="round" stroke-linejoin="round" opacity="1.00"/>
<path d="M264.90 275.40 L264.90 275.20 L265.10 274.80 L265.30 274.60 L265.70 274.40 L266.50 274.40 L266.90 274.60 L267.10 274.80 L267.30 275.20 L267.30 275.60 L267.10 276.00 L266.70 276.60 L264.70 278.60 L267.50 278.60 M268.90 274.40 L268.90 278.60 M268.90 274.40 L270.50 278.60 M272.10 274.40 L270.50 278.60 M272.10 274.40 L272.10 278.60 M273.70 274.40 L273.70 278.60 M276.50 274.40 L273.70 277.20 M274.70 276.20 L276.50 278.60" stroke="#1ee61e" stroke-width="0.70" fill="none" stroke-linecap="round" stroke-linejoin="round" opacity="1.00"/>
<path d="M290.20 274.40 L288.20 274.40 L288.00 276.20 L288.20 276.00 L288.80 275.80 L289.40 275.80 L290.00 276.00 L290.40 276.40 L290.60 277.00 L290.60 277.40 L290.40 278.00 L290.00 278.40 L289.40 278.60 L288.80 278.60 L288.20 278.40 L288.00 278.20 L287.80 277.80 M292.00 274.40 L292.00 278.60 M292.00 274.40 L293.60 278.60 M295.20 274.40 L293.60 278.60 M295.20 274.40 L295.20 278.60 M296.80 274.40 L296.80 278.60 M299.60 274.40 L296.80 277.20 M297.80 276.20 L299.60 278.60" stroke="#1ee61e" stroke-width="0.70" fill="none" stroke-linecap="round" stroke-linejoin="round" opacity="1.00"/>
<g transform="translate(42.8,148.5) rotate(-90)"><path d="M-16.92 -10.61 L-17.93 -10.61 L-18.94 -10.10 L-19.44 -8.59 L-19.44 0.00 M-20.96 -7.07 L-17.42 -7.07 M-10.35 -12.62 L-11.36 -11.62 L-12.37 -10.10 L-13.38 -8.08 L-13.89 -5.55 L-13.89 -3.54 L-13.38 -1.01 L-12.37 1.01 L-11.36 2.52 L-10.35 3.54 M-6.82 -10.61 L-6.82 0.00 M-6.82 -10.61 L-0.25 -10.61 M-6.82 -5.55 L-2.78 -5.55 M-6.82 0.00 L-0.25 0.00 M3.79 -0.51 L3.28 0.00 L2.78 -0.51 L3.28 -1.01 L3.79 -0.51 L3.79 0.51 L3.28 1.52 L2.78 2.02 M8.84 -7.07 L6.82 0.00 M13.89 -6.57 L13.38 -7.07 L12.88 -7.07 L11.87 -6.57 L9.85 -4.54 L8.84 -4.04 L8.33 -4.04 M8.33 -4.04 L9.34 -3.54 L9.85 -3.03 L10.86 -0.51 L11.36 0.00 L11.87 0.00 L12.37 -0.51 M16.41 -12.62 L17.42 -11.62 L18.43 -10.10 L19.44 -8.08 L19.95 -5.55 L19.95 -3.54 L19.44 -1.01 L18.43 1.01 L17.42 2.52 L16.41 3.54" stroke="#000" stroke-width="0.66" fill="none" stroke-linecap="round" stroke-linejoin="round"/></g>
</svg>
</body></html>
